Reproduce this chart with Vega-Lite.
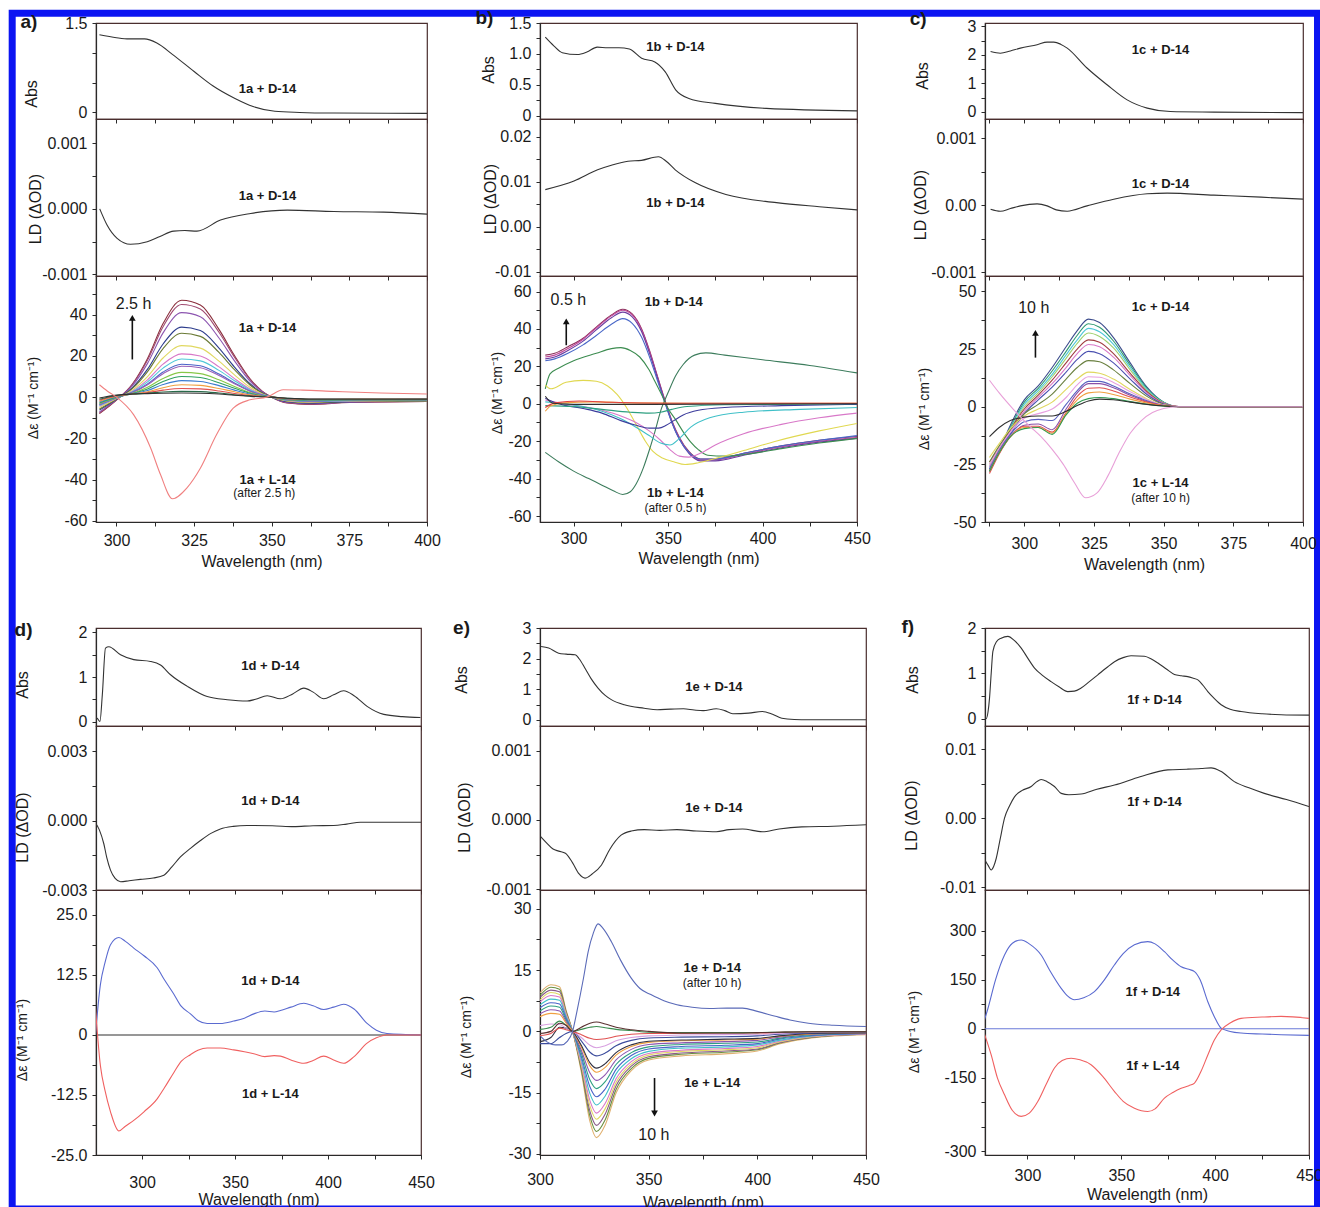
{
"$schema":"https://vega.github.io/schema/vega-lite/v6.json",
"usermeta":{"embedOptions":{"actions":false}},
"padding":{"left":8,"top":8,"right":0,"bottom":0},
"background":"white",
"config":{
 "font":"Liberation Sans",
 "view":{"stroke":"#4a2e2e","strokeWidth":1.2},
 "axis":{"grid":false,"domainColor":"#2a2a2a","domainWidth":1.2,"tickColor":"#2a2a2a","tickSize":4,"labelFontSize":16,"labelColor":"#1a1a1a","labelPadding":5,"titleFontSize":16,"titleFontWeight":"normal","titleColor":"#1a1a1a","labelOverlap":false,"labelFlush":false},
 "axisY":{"titleAngle":270,"titleBaseline":"middle","titleAlign":"center"},
 "text":{"color":"#1a1a1a","align":"center","baseline":"middle"}
},
"datasets":{
"frame":[{"x":266.41,"x2":686.79,"y":1.6732,"y2":-18.482}],
"lab":[
{"g":"aA","x":348.6,"y":0.4,"t":"1a + D-14"},{"g":"aL","x":348.6,"y":0.0002,"t":"1a + D-14"},{"g":"aC","x":348.6,"y":33.8,"t":"1a + D-14"},{"g":"aC","x":348.6,"y":-40,"t":"1a + L-14"},
{"g":"bA","x":353.9,"y":1.11,"t":"1b + D-14"},{"g":"bL","x":353.9,"y":0.0053,"t":"1b + D-14"},{"g":"bC","x":353,"y":54.2,"t":"1b + D-14"},{"g":"bC","x":353.9,"y":-47.9,"t":"1b + L-14"},
{"g":"cA","x":348.9,"y":2.18,"t":"1c + D-14"},{"g":"cL","x":348.9,"y":0.00032,"t":"1c + D-14"},{"g":"cC","x":348.9,"y":43.1,"t":"1c + D-14"},{"g":"cC","x":348.9,"y":-33,"t":"1c + L-14"},
{"g":"dA","x":369,"y":1.24,"t":"1d + D-14"},{"g":"dL","x":369,"y":0.00086,"t":"1d + D-14"},{"g":"dC","x":369,"y":11.3,"t":"1d + D-14"},{"g":"dC","x":369,"y":-12.3,"t":"1d + L-14"},
{"g":"eA","x":380,"y":1.09,"t":"1e + D-14"},{"g":"eL","x":380,"y":0.00017,"t":"1e + D-14"},{"g":"eC","x":379.2,"y":15.5,"t":"1e + D-14"},{"g":"eC","x":379.2,"y":-12.7,"t":"1e + L-14"},
{"g":"fA","x":367.7,"y":0.42,"t":"1f + D-14"},{"g":"fL","x":367.7,"y":0.0024,"t":"1f + D-14"},{"g":"fC","x":366.8,"y":114,"t":"1f + D-14"},{"g":"fC","x":366.8,"y":-115,"t":"1f + L-14"}],
"sub":[{"g":"aC","x":347.6,"y":-46.7,"t":"(after 2.5 h)"},{"g":"bC","x":353.9,"y":-55.9,"t":"(after 0.5 h)"},{"g":"cC","x":348.9,"y":-39.4,"t":"(after 10 h)"},{"g":"eC","x":379.2,"y":11.8,"t":"(after 10 h)"}],
"big":[{"g":"aC","x":305.5,"y":45,"t":"2.5 h"},{"g":"bC","x":297.2,"y":55.7,"t":"0.5 h"},{"g":"cC","x":303.4,"y":42.8,"t":"10 h"},{"g":"eC","x":352.4,"y":-25.3,"t":"10 h"}],
"let":[{"g":"a","x":271.8,"y":1.533,"t":"a)"},{"g":"b","x":252.8,"y":1.573,"t":"b)"},{"g":"c","x":261.9,"y":3.281,"t":"c)"},{"g":"d","x":236.2,"y":2.067,"t":"d)"},{"g":"e","x":263.9,"y":3.023,"t":"e)"},{"g":"f","x":236.3,"y":2.037,"t":"f)"}],
"arr":[{"g":"aC","x":305.1,"y":18.3,"y2":38},{"g":"bC","x":296.1,"y":31.3,"y2":44},{"g":"cC","x":304,"y":21.3,"y2":32},{"g":"eC","x":352.7,"y":-11.4,"y2":-20.1}],
"tipU":[{"g":"aC","x":305.1,"y":38.5},{"g":"bC","x":296.1,"y":44},{"g":"cC","x":304,"y":32}],
"tipD":[{"g":"eC","x":352.7,"y":-20.1}],
"aA":[{"x":294.5,"y":1.31},{"x":300,"y":1.26},{"x":304,"y":1.24},{"x":309,"y":1.24},{"x":313,"y":1.17},{"x":318,"y":0.98},{"x":325,"y":0.69},{"x":331,"y":0.45},{"x":338,"y":0.24},{"x":344,"y":0.1},{"x":351,"y":0.02},{"x":359,"y":0},{"x":370,"y":-0.01},{"x":400,"y":-0.015}],
"aL":[{"x":294.6,"y":0},{"x":297,"y":-0.00025},{"x":300.2,"y":-0.00045},{"x":304.5,"y":-0.00054},{"x":309.9,"y":-0.0005},{"x":314,"y":-0.00042},{"x":318.4,"y":-0.00034},{"x":322,"y":-0.00033},{"x":325.9,"y":-0.00034},{"x":333.5,"y":-0.00017},{"x":343.2,"y":-0.00007},{"x":355,"y":-0.00002},{"x":370,"y":-0.00004},{"x":386,"y":-0.00005},{"x":400,"y":-0.00008}],
"aC":[
{"c":"a01","x":294.5,"y":-8},{"c":"a01","x":300,"y":-1.4},{"c":"a01","x":305,"y":6.1},{"c":"a01","x":310,"y":18.8},{"c":"a01","x":315,"y":35.7},{"c":"a01","x":321,"y":47},{"c":"a01","x":327,"y":44.7},{"c":"a01","x":333,"y":32.9},{"c":"a01","x":338,"y":20.2},{"c":"a01","x":343,"y":8.9},{"c":"a01","x":347,"y":2.8},{"c":"a01","x":350,"y":0},{"c":"a01","x":355,"y":-2.8},{"c":"a01","x":362,"y":-3.5},{"c":"a01","x":375,"y":-2.6},{"c":"a01","x":400,"y":-2.1},
{"c":"a02","x":294.5,"y":-7.7},{"c":"a02","x":300,"y":-1.3},{"c":"a02","x":305,"y":5.9},{"c":"a02","x":310,"y":18},{"c":"a02","x":315,"y":34.2},{"c":"a02","x":321,"y":45},{"c":"a02","x":327,"y":42.8},{"c":"a02","x":333,"y":31.5},{"c":"a02","x":338,"y":19.4},{"c":"a02","x":343,"y":8.6},{"c":"a02","x":347,"y":2.7},{"c":"a02","x":350,"y":0},{"c":"a02","x":355,"y":-2.7},{"c":"a02","x":362,"y":-3.4},{"c":"a02","x":375,"y":-2.5},{"c":"a02","x":400,"y":-2.1},
{"c":"a03","x":294.5,"y":-7.2},{"c":"a03","x":300,"y":-1.2},{"c":"a03","x":305,"y":5.3},{"c":"a03","x":310,"y":16.4},{"c":"a03","x":315,"y":31.2},{"c":"a03","x":321,"y":41},{"c":"a03","x":327,"y":39},{"c":"a03","x":333,"y":28.7},{"c":"a03","x":338,"y":17.6},{"c":"a03","x":343,"y":7.8},{"c":"a03","x":347,"y":2.5},{"c":"a03","x":350,"y":0},{"c":"a03","x":355,"y":-2.5},{"c":"a03","x":362,"y":-3.2},{"c":"a03","x":375,"y":-2.4},{"c":"a03","x":400,"y":-2},
{"c":"a04","x":294.5,"y":-6.3},{"c":"a04","x":300,"y":-1},{"c":"a04","x":305,"y":4.4},{"c":"a04","x":310,"y":13.6},{"c":"a04","x":315,"y":25.8},{"c":"a04","x":321,"y":34},{"c":"a04","x":327,"y":32.3},{"c":"a04","x":333,"y":23.8},{"c":"a04","x":338,"y":14.6},{"c":"a04","x":343,"y":6.5},{"c":"a04","x":347,"y":2},{"c":"a04","x":350,"y":0},{"c":"a04","x":355,"y":-2.2},{"c":"a04","x":362,"y":-2.9},{"c":"a04","x":375,"y":-2.2},{"c":"a04","x":400,"y":-1.9},
{"c":"a05","x":294.5,"y":-5.8},{"c":"a05","x":300,"y":-0.9},{"c":"a05","x":305,"y":4},{"c":"a05","x":310,"y":12.4},{"c":"a05","x":315,"y":23.6},{"c":"a05","x":321,"y":31},{"c":"a05","x":327,"y":29.5},{"c":"a05","x":333,"y":21.7},{"c":"a05","x":338,"y":13.3},{"c":"a05","x":343,"y":5.9},{"c":"a05","x":347,"y":1.9},{"c":"a05","x":350,"y":0},{"c":"a05","x":355,"y":-2},{"c":"a05","x":362,"y":-2.7},{"c":"a05","x":375,"y":-2.1},{"c":"a05","x":400,"y":-1.8},
{"c":"a06","x":294.5,"y":-5},{"c":"a06","x":300,"y":-0.7},{"c":"a06","x":305,"y":3.3},{"c":"a06","x":310,"y":10},{"c":"a06","x":315,"y":19},{"c":"a06","x":321,"y":25},{"c":"a06","x":327,"y":23.8},{"c":"a06","x":333,"y":17.5},{"c":"a06","x":338,"y":10.8},{"c":"a06","x":343,"y":4.8},{"c":"a06","x":347,"y":1.5},{"c":"a06","x":350,"y":0},{"c":"a06","x":355,"y":-1.8},{"c":"a06","x":362,"y":-2.4},{"c":"a06","x":375,"y":-1.9},{"c":"a06","x":400,"y":-1.7},
{"c":"a07","x":294.5,"y":-4.4},{"c":"a07","x":300,"y":-0.5},{"c":"a07","x":305,"y":2.8},{"c":"a07","x":310,"y":8.4},{"c":"a07","x":315,"y":16},{"c":"a07","x":321,"y":21},{"c":"a07","x":327,"y":20},{"c":"a07","x":333,"y":14.7},{"c":"a07","x":338,"y":9},{"c":"a07","x":343,"y":4},{"c":"a07","x":347,"y":1.3},{"c":"a07","x":350,"y":0},{"c":"a07","x":355,"y":-1.6},{"c":"a07","x":362,"y":-2.2},{"c":"a07","x":375,"y":-1.8},{"c":"a07","x":400,"y":-1.6},
{"c":"a08","x":294.5,"y":-4.1},{"c":"a08","x":300,"y":-0.4},{"c":"a08","x":305,"y":2.5},{"c":"a08","x":310,"y":7.4},{"c":"a08","x":315,"y":14.1},{"c":"a08","x":321,"y":18.5},{"c":"a08","x":327,"y":17.6},{"c":"a08","x":333,"y":13},{"c":"a08","x":338,"y":8},{"c":"a08","x":343,"y":3.5},{"c":"a08","x":347,"y":1.1},{"c":"a08","x":350,"y":0},{"c":"a08","x":355,"y":-1.5},{"c":"a08","x":362,"y":-2},{"c":"a08","x":375,"y":-1.7},{"c":"a08","x":400,"y":-1.5},
{"c":"a09","x":294.5,"y":-3.7},{"c":"a09","x":300,"y":-0.3},{"c":"a09","x":305,"y":2.2},{"c":"a09","x":310,"y":6.4},{"c":"a09","x":315,"y":12.2},{"c":"a09","x":321,"y":16},{"c":"a09","x":327,"y":15.2},{"c":"a09","x":333,"y":11.2},{"c":"a09","x":338,"y":6.9},{"c":"a09","x":343,"y":3},{"c":"a09","x":347,"y":1},{"c":"a09","x":350,"y":0},{"c":"a09","x":355,"y":-1.4},{"c":"a09","x":362,"y":-1.9},{"c":"a09","x":375,"y":-1.6},{"c":"a09","x":400,"y":-1.4},
{"c":"a10","x":294.5,"y":-3.6},{"c":"a10","x":300,"y":-0.3},{"c":"a10","x":305,"y":2.1},{"c":"a10","x":310,"y":6},{"c":"a10","x":315,"y":11.4},{"c":"a10","x":321,"y":15},{"c":"a10","x":327,"y":14.3},{"c":"a10","x":333,"y":10.5},{"c":"a10","x":338,"y":6.5},{"c":"a10","x":343,"y":2.9},{"c":"a10","x":347,"y":0.9},{"c":"a10","x":350,"y":0},{"c":"a10","x":355,"y":-1.3},{"c":"a10","x":362,"y":-1.8},{"c":"a10","x":375,"y":-1.5},{"c":"a10","x":400,"y":-1.4},
{"c":"a11","x":294.5,"y":-3.1},{"c":"a11","x":300,"y":-0.1},{"c":"a11","x":305,"y":1.8},{"c":"a11","x":310,"y":4.8},{"c":"a11","x":315,"y":9.1},{"c":"a11","x":321,"y":12},{"c":"a11","x":327,"y":11.4},{"c":"a11","x":333,"y":8.4},{"c":"a11","x":338,"y":5.2},{"c":"a11","x":343,"y":2.3},{"c":"a11","x":347,"y":0.7},{"c":"a11","x":350,"y":0},{"c":"a11","x":355,"y":-1.2},{"c":"a11","x":362,"y":-1.6},{"c":"a11","x":375,"y":-1.4},{"c":"a11","x":400,"y":-1.3},
{"c":"a12","x":294.5,"y":-2.8},{"c":"a12","x":300,"y":0},{"c":"a12","x":305,"y":1.7},{"c":"a12","x":310,"y":4},{"c":"a12","x":315,"y":7.6},{"c":"a12","x":321,"y":10},{"c":"a12","x":327,"y":9.5},{"c":"a12","x":333,"y":7},{"c":"a12","x":338,"y":4.3},{"c":"a12","x":343,"y":1.9},{"c":"a12","x":347,"y":0.6},{"c":"a12","x":350,"y":0},{"c":"a12","x":355,"y":-1.1},{"c":"a12","x":362,"y":-1.5},{"c":"a12","x":375,"y":-1.3},{"c":"a12","x":400,"y":-1.2},
{"c":"a13","x":294.5,"y":-2.4},{"c":"a13","x":300,"y":0.2},{"c":"a13","x":305,"y":1.6},{"c":"a13","x":310,"y":3.2},{"c":"a13","x":315,"y":6.1},{"c":"a13","x":321,"y":8},{"c":"a13","x":327,"y":7.6},{"c":"a13","x":333,"y":5.6},{"c":"a13","x":338,"y":3.4},{"c":"a13","x":343,"y":1.5},{"c":"a13","x":347,"y":0.5},{"c":"a13","x":350,"y":0},{"c":"a13","x":355,"y":-1},{"c":"a13","x":362,"y":-1.4},{"c":"a13","x":375,"y":-1.2},{"c":"a13","x":400,"y":-1.1},
{"c":"a14","x":294.5,"y":-2},{"c":"a14","x":300,"y":0.4},{"c":"a14","x":305,"y":1.5},{"c":"a14","x":310,"y":2.6},{"c":"a14","x":315,"y":4.6},{"c":"a14","x":321,"y":6},{"c":"a14","x":327,"y":5.7},{"c":"a14","x":333,"y":4.2},{"c":"a14","x":338,"y":2.6},{"c":"a14","x":343,"y":1.1},{"c":"a14","x":347,"y":0.4},{"c":"a14","x":350,"y":0},{"c":"a14","x":355,"y":-0.8},{"c":"a14","x":362,"y":-1.2},{"c":"a14","x":375,"y":-1.1},{"c":"a14","x":400,"y":-1},
{"c":"a15","x":294.5,"y":-1.5},{"c":"a15","x":300,"y":0.6},{"c":"a15","x":305,"y":1.5},{"c":"a15","x":310,"y":2.2},{"c":"a15","x":315,"y":3.4},{"c":"a15","x":321,"y":4.2},{"c":"a15","x":327,"y":4},{"c":"a15","x":333,"y":3},{"c":"a15","x":338,"y":1.8},{"c":"a15","x":343,"y":0.8},{"c":"a15","x":347,"y":0.3},{"c":"a15","x":350,"y":0},{"c":"a15","x":355,"y":-0.7},{"c":"a15","x":362,"y":-1.1},{"c":"a15","x":375,"y":-1},{"c":"a15","x":400,"y":-1},
{"c":"a16","x":294.5,"y":-1},{"c":"a16","x":300,"y":0.8},{"c":"a16","x":305,"y":1.5},{"c":"a16","x":310,"y":1.9},{"c":"a16","x":315,"y":2.5},{"c":"a16","x":321,"y":2.8},{"c":"a16","x":327,"y":2.7},{"c":"a16","x":333,"y":2},{"c":"a16","x":338,"y":1.2},{"c":"a16","x":343,"y":0.6},{"c":"a16","x":347,"y":0.2},{"c":"a16","x":350,"y":0},{"c":"a16","x":355,"y":-0.6},{"c":"a16","x":362,"y":-1},{"c":"a16","x":375,"y":-1},{"c":"a16","x":400,"y":-1},
{"c":"a17","x":294.5,"y":-0.4},{"c":"a17","x":300,"y":1},{"c":"a17","x":305,"y":1.5},{"c":"a17","x":310,"y":1.7},{"c":"a17","x":315,"y":1.9},{"c":"a17","x":321,"y":2},{"c":"a17","x":327,"y":1.9},{"c":"a17","x":333,"y":1.5},{"c":"a17","x":338,"y":0.9},{"c":"a17","x":343,"y":0.4},{"c":"a17","x":347,"y":0.1},{"c":"a17","x":350,"y":0},{"c":"a17","x":355,"y":-0.5},{"c":"a17","x":362,"y":-0.9},{"c":"a17","x":375,"y":-0.9},{"c":"a17","x":400,"y":-0.9},
{"c":"aL","x":294.5,"y":6},{"c":"aL","x":297,"y":3},{"c":"aL","x":300,"y":0},{"c":"aL","x":305.5,"y":-8.5},{"c":"aL","x":311,"y":-24.7},{"c":"aL","x":314.2,"y":-37.7},{"c":"aL","x":318,"y":-49.3},{"c":"aL","x":322.7,"y":-44},{"c":"aL","x":327,"y":-34.5},{"c":"aL","x":332.2,"y":-18.3},{"c":"aL","x":337.6,"y":-5.3},{"c":"aL","x":343,"y":-1.3},{"c":"aL","x":348.4,"y":0},{"c":"aL","x":353.7,"y":3.6},{"c":"aL","x":360,"y":3.4},{"c":"aL","x":370,"y":2.8},{"c":"aL","x":385,"y":2},{"c":"aL","x":400,"y":1.5}],
"bA":[{"x":285,"y":1.27},{"x":289.5,"y":1.13},{"x":294,"y":1.02},{"x":302,"y":0.99},{"x":307,"y":1.03},{"x":312.5,"y":1.11},{"x":318,"y":1.1},{"x":324,"y":1.1},{"x":329.5,"y":1.08},{"x":336,"y":0.93},{"x":343,"y":0.87},{"x":348.5,"y":0.71},{"x":354,"y":0.42},{"x":361,"y":0.28},{"x":375,"y":0.2},{"x":402,"y":0.12},{"x":450,"y":0.08}],
"bL":[{"x":285,"y":0.0082},{"x":300.2,"y":0.0101},{"x":312.7,"y":0.0126},{"x":320,"y":0.0136},{"x":328.8,"y":0.0145},{"x":335.9,"y":0.0147},{"x":344.9,"y":0.0155},{"x":349,"y":0.0145},{"x":353.8,"y":0.0126},{"x":364.5,"y":0.0097},{"x":380.6,"y":0.0071},{"x":407.4,"y":0.0053},{"x":430,"y":0.0044},{"x":450,"y":0.0037}],
"bC":[
{"c":"b01","x":285,"y":26},{"c":"b01","x":290,"y":27},{"c":"b01","x":297,"y":30.5},{"c":"b01","x":305,"y":35},{"c":"b01","x":312,"y":41},{"c":"b01","x":320,"y":47.5},{"c":"b01","x":326,"y":50.5},{"c":"b01","x":331,"y":48},{"c":"b01","x":336,"y":40},{"c":"b01","x":340,"y":29},{"c":"b01","x":344,"y":16},{"c":"b01","x":348,"y":3},{"c":"b01","x":352,"y":-9},{"c":"b01","x":356,"y":-18},{"c":"b01","x":361,"y":-25.5},{"c":"b01","x":367,"y":-29.5},{"c":"b01","x":375,"y":-29.5},{"c":"b01","x":390,"y":-26.5},{"c":"b01","x":410,"y":-22.5},{"c":"b01","x":430,"y":-19.5},{"c":"b01","x":450,"y":-17.5},
{"c":"b02","x":285,"y":25},{"c":"b02","x":290,"y":26},{"c":"b02","x":297,"y":29.5},{"c":"b02","x":305,"y":34.5},{"c":"b02","x":312,"y":40.5},{"c":"b02","x":320,"y":47},{"c":"b02","x":326,"y":50},{"c":"b02","x":331,"y":47.5},{"c":"b02","x":336,"y":39.5},{"c":"b02","x":340,"y":28.5},{"c":"b02","x":344,"y":15.5},{"c":"b02","x":348,"y":2.5},{"c":"b02","x":352,"y":-9.5},{"c":"b02","x":356,"y":-18.5},{"c":"b02","x":361,"y":-26},{"c":"b02","x":367,"y":-30},{"c":"b02","x":375,"y":-30},{"c":"b02","x":390,"y":-27},{"c":"b02","x":410,"y":-23},{"c":"b02","x":430,"y":-20},{"c":"b02","x":450,"y":-18},
{"c":"b03","x":285,"y":24},{"c":"b03","x":290,"y":25},{"c":"b03","x":297,"y":28.5},{"c":"b03","x":305,"y":33.5},{"c":"b03","x":312,"y":39.5},{"c":"b03","x":320,"y":46},{"c":"b03","x":326,"y":49},{"c":"b03","x":331,"y":46.5},{"c":"b03","x":336,"y":38.5},{"c":"b03","x":340,"y":27.5},{"c":"b03","x":344,"y":15},{"c":"b03","x":348,"y":2},{"c":"b03","x":352,"y":-10},{"c":"b03","x":356,"y":-19},{"c":"b03","x":361,"y":-26.5},{"c":"b03","x":367,"y":-30.5},{"c":"b03","x":375,"y":-30.5},{"c":"b03","x":390,"y":-27.5},{"c":"b03","x":410,"y":-23.5},{"c":"b03","x":430,"y":-20.5},{"c":"b03","x":450,"y":-18.5},
{"c":"b04","x":285,"y":23},{"c":"b04","x":290,"y":24},{"c":"b04","x":297,"y":27},{"c":"b04","x":305,"y":31.5},{"c":"b04","x":312,"y":36.5},{"c":"b04","x":320,"y":42.5},{"c":"b04","x":326,"y":45.5},{"c":"b04","x":331,"y":43},{"c":"b04","x":336,"y":35.5},{"c":"b04","x":340,"y":25.5},{"c":"b04","x":344,"y":13.5},{"c":"b04","x":348,"y":1.5},{"c":"b04","x":352,"y":-10},{"c":"b04","x":356,"y":-19},{"c":"b04","x":361,"y":-26},{"c":"b04","x":367,"y":-29.5},{"c":"b04","x":375,"y":-29.5},{"c":"b04","x":390,"y":-26.5},{"c":"b04","x":410,"y":-22.5},{"c":"b04","x":430,"y":-19.5},{"c":"b04","x":450,"y":-17},
{"c":"b05","x":285,"y":8},{"c":"b05","x":287.5,"y":16},{"c":"b05","x":292,"y":19},{"c":"b05","x":300,"y":23},{"c":"b05","x":312,"y":27},{"c":"b05","x":320,"y":29.5},{"c":"b05","x":325,"y":30},{"c":"b05","x":330,"y":28.5},{"c":"b05","x":335,"y":25},{"c":"b05","x":340,"y":18},{"c":"b05","x":343,"y":12},{"c":"b05","x":347,"y":4},{"c":"b05","x":350,"y":-2.5},{"c":"b05","x":354,"y":-8.5},{"c":"b05","x":358,"y":-15},{"c":"b05","x":362,"y":-20.5},{"c":"b05","x":366,"y":-24.5},{"c":"b05","x":371,"y":-27.5},{"c":"b05","x":380,"y":-28},{"c":"b05","x":395,"y":-26.5},{"c":"b05","x":410,"y":-24},{"c":"b05","x":430,"y":-21},{"c":"b05","x":450,"y":-18.5},
{"c":"b06","x":285,"y":10},{"c":"b06","x":288,"y":8},{"c":"b06","x":296,"y":11.5},{"c":"b06","x":305,"y":12.5},{"c":"b06","x":312,"y":12},{"c":"b06","x":318,"y":9.5},{"c":"b06","x":323,"y":5},{"c":"b06","x":328,"y":-2},{"c":"b06","x":333,"y":-11},{"c":"b06","x":338,"y":-20},{"c":"b06","x":342,"y":-25.5},{"c":"b06","x":347,"y":-29},{"c":"b06","x":353,"y":-31},{"c":"b06","x":359,"y":-32.5},{"c":"b06","x":366,"y":-31.5},{"c":"b06","x":374,"y":-29.5},{"c":"b06","x":390,"y":-25},{"c":"b06","x":407,"y":-20},{"c":"b06","x":430,"y":-14.5},{"c":"b06","x":450,"y":-10.5},
{"c":"b07","x":285,"y":-26},{"c":"b07","x":292,"y":-31},{"c":"b07","x":300,"y":-36},{"c":"b07","x":308,"y":-40},{"c":"b07","x":315,"y":-43.5},{"c":"b07","x":321,"y":-46.5},{"c":"b07","x":326,"y":-48.5},{"c":"b07","x":330,"y":-47},{"c":"b07","x":333,"y":-43},{"c":"b07","x":337,"y":-34},{"c":"b07","x":340,"y":-25},{"c":"b07","x":343,"y":-15},{"c":"b07","x":346.5,"y":-2.5},{"c":"b07","x":350,"y":6},{"c":"b07","x":354,"y":15},{"c":"b07","x":358,"y":21},{"c":"b07","x":364,"y":26},{"c":"b07","x":370,"y":27.2},{"c":"b07","x":380,"y":26},{"c":"b07","x":400,"y":23.5},{"c":"b07","x":425,"y":20.5},{"c":"b07","x":450,"y":16.5},
{"c":"b08","x":285,"y":2},{"c":"b08","x":295,"y":0},{"c":"b08","x":305,"y":-1.5},{"c":"b08","x":315,"y":-3.5},{"c":"b08","x":325,"y":-6.5},{"c":"b08","x":333,"y":-10},{"c":"b08","x":340,"y":-14.5},{"c":"b08","x":346,"y":-19.5},{"c":"b08","x":351,"y":-24.5},{"c":"b08","x":356,"y":-28},{"c":"b08","x":361,"y":-28.5},{"c":"b08","x":367,"y":-26.5},{"c":"b08","x":375,"y":-22},{"c":"b08","x":390,"y":-16},{"c":"b08","x":410,"y":-11},{"c":"b08","x":430,"y":-7.5},{"c":"b08","x":450,"y":-5},
{"c":"b09","x":285,"y":1},{"c":"b09","x":295,"y":0},{"c":"b09","x":305,"y":-1.5},{"c":"b09","x":315,"y":-4},{"c":"b09","x":325,"y":-8},{"c":"b09","x":333,"y":-12.5},{"c":"b09","x":340,"y":-17},{"c":"b09","x":346,"y":-21},{"c":"b09","x":351,"y":-22},{"c":"b09","x":356,"y":-18.5},{"c":"b09","x":362,"y":-12.5},{"c":"b09","x":372,"y":-7.5},{"c":"b09","x":390,"y":-4.5},{"c":"b09","x":420,"y":-3},{"c":"b09","x":450,"y":-2},
{"c":"b10","x":285,"y":3},{"c":"b10","x":292,"y":0},{"c":"b10","x":305,"y":-2.5},{"c":"b10","x":315,"y":-5},{"c":"b10","x":325,"y":-9},{"c":"b10","x":333,"y":-11.5},{"c":"b10","x":340,"y":-13},{"c":"b10","x":345,"y":-13},{"c":"b10","x":349,"y":-11.5},{"c":"b10","x":353,"y":-9},{"c":"b10","x":358,"y":-6},{"c":"b10","x":366,"y":-3.5},{"c":"b10","x":380,"y":-2},{"c":"b10","x":410,"y":-1},{"c":"b10","x":450,"y":-0.3},
{"c":"b11","x":285,"y":-1},{"c":"b11","x":300,"y":-1.5},{"c":"b11","x":315,"y":-3},{"c":"b11","x":330,"y":-4.5},{"c":"b11","x":340,"y":-5},{"c":"b11","x":346,"y":-4.5},{"c":"b11","x":352,"y":-3},{"c":"b11","x":360,"y":-1.5},{"c":"b11","x":380,"y":-0.5},{"c":"b11","x":450,"y":0},
{"c":"b12","x":285,"y":-4},{"c":"b12","x":288,"y":-1},{"c":"b12","x":295,"y":0.5},{"c":"b12","x":310,"y":1},{"c":"b12","x":330,"y":0.5},{"c":"b12","x":360,"y":0.3},{"c":"b12","x":450,"y":0.2},
{"c":"b13","x":285,"y":-2},{"c":"b13","x":290,"y":0.5},{"c":"b13","x":303,"y":1.5},{"c":"b13","x":320,"y":0.8},{"c":"b13","x":350,"y":0.3},{"c":"b13","x":450,"y":0.2},
{"c":"b14","x":285,"y":4},{"c":"b14","x":289,"y":0.3},{"c":"b14","x":300,"y":-0.3},{"c":"b14","x":340,"y":-0.3},{"c":"b14","x":450,"y":0}],
"cA":[{"x":287.9,"y":2.12},{"x":291.4,"y":2.06},{"x":295,"y":2.14},{"x":298.6,"y":2.24},{"x":304.6,"y":2.36},{"x":308.2,"y":2.45},{"x":310.6,"y":2.45},{"x":313,"y":2.38},{"x":315.4,"y":2.24},{"x":322.5,"y":1.54},{"x":329.7,"y":0.95},{"x":336.9,"y":0.42},{"x":344.1,"y":0.13},{"x":352.4,"y":0.01},{"x":368,"y":-0.01},{"x":400,"y":-0.03}],
"cL":[{"x":287.9,"y":-0.00006},{"x":291.4,"y":-0.00009},{"x":295,"y":-0.00005},{"x":298.6,"y":-0.00001},{"x":304.6,"y":0.00002},{"x":308.2,"y":-0.00001},{"x":311.5,"y":-0.00007},{"x":315.4,"y":-0.00009},{"x":322.5,"y":-0.00001},{"x":332.1,"y":0.00009},{"x":344.1,"y":0.00017},{"x":351.3,"y":0.00018},{"x":368,"y":0.00015},{"x":385,"y":0.00012},{"x":400,"y":0.00009}],
"cC":[
{"c":"c01","x":287.5,"y":-28},{"c":"c01","x":291,"y":-19},{"c":"c01","x":295,"y":-8},{"c":"c01","x":300,"y":3},{"c":"c01","x":305,"y":9},{"c":"c01","x":310,"y":17},{"c":"c01","x":315,"y":26},{"c":"c01","x":319,"y":33},{"c":"c01","x":323,"y":38},{"c":"c01","x":327,"y":36.5},{"c":"c01","x":332,"y":30},{"c":"c01","x":338,"y":19},{"c":"c01","x":344,"y":8.5},{"c":"c01","x":350,"y":2},{"c":"c01","x":356,"y":0},{"c":"c01","x":370,"y":0},{"c":"c01","x":400,"y":0},
{"c":"c02","x":287.5,"y":-27},{"c":"c02","x":291,"y":-19},{"c":"c02","x":295,"y":-9},{"c":"c02","x":300,"y":2},{"c":"c02","x":305,"y":8},{"c":"c02","x":310,"y":15.5},{"c":"c02","x":315,"y":24},{"c":"c02","x":319,"y":31},{"c":"c02","x":323,"y":36},{"c":"c02","x":327,"y":34.5},{"c":"c02","x":332,"y":28.5},{"c":"c02","x":338,"y":18},{"c":"c02","x":344,"y":8},{"c":"c02","x":350,"y":2},{"c":"c02","x":356,"y":0},{"c":"c02","x":370,"y":0},{"c":"c02","x":400,"y":0},
{"c":"c03","x":287.5,"y":-26},{"c":"c03","x":291,"y":-19},{"c":"c03","x":295,"y":-9.5},{"c":"c03","x":300,"y":1},{"c":"c03","x":305,"y":7},{"c":"c03","x":310,"y":14},{"c":"c03","x":315,"y":22.5},{"c":"c03","x":319,"y":29},{"c":"c03","x":323,"y":34},{"c":"c03","x":327,"y":32.5},{"c":"c03","x":332,"y":27},{"c":"c03","x":338,"y":17},{"c":"c03","x":344,"y":7.5},{"c":"c03","x":350,"y":1.8},{"c":"c03","x":356,"y":0},{"c":"c03","x":370,"y":0},{"c":"c03","x":400,"y":0},
{"c":"c04","x":287.5,"y":-25},{"c":"c04","x":291,"y":-18.5},{"c":"c04","x":295,"y":-10},{"c":"c04","x":300,"y":0},{"c":"c04","x":305,"y":6},{"c":"c04","x":310,"y":13},{"c":"c04","x":315,"y":21},{"c":"c04","x":319,"y":27.5},{"c":"c04","x":323,"y":32},{"c":"c04","x":327,"y":30.5},{"c":"c04","x":332,"y":25.5},{"c":"c04","x":338,"y":16},{"c":"c04","x":344,"y":7},{"c":"c04","x":350,"y":1.7},{"c":"c04","x":356,"y":0},{"c":"c04","x":370,"y":0},{"c":"c04","x":400,"y":0},
{"c":"c05","x":287.5,"y":-24},{"c":"c05","x":291,"y":-18},{"c":"c05","x":295,"y":-10},{"c":"c05","x":300,"y":-1},{"c":"c05","x":305,"y":5},{"c":"c05","x":310,"y":11.5},{"c":"c05","x":315,"y":19},{"c":"c05","x":319,"y":25},{"c":"c05","x":323,"y":29},{"c":"c05","x":327,"y":28},{"c":"c05","x":332,"y":23},{"c":"c05","x":338,"y":14.5},{"c":"c05","x":344,"y":6.5},{"c":"c05","x":350,"y":1.5},{"c":"c05","x":356,"y":0},{"c":"c05","x":370,"y":0},{"c":"c05","x":400,"y":0},
{"c":"c06","x":287.5,"y":-26},{"c":"c06","x":291,"y":-19},{"c":"c06","x":295,"y":-11},{"c":"c06","x":300,"y":-2},{"c":"c06","x":305,"y":4},{"c":"c06","x":310,"y":10},{"c":"c06","x":315,"y":17},{"c":"c06","x":319,"y":23},{"c":"c06","x":323,"y":27},{"c":"c06","x":327,"y":26},{"c":"c06","x":332,"y":21.5},{"c":"c06","x":338,"y":13.5},{"c":"c06","x":344,"y":6},{"c":"c06","x":350,"y":1.4},{"c":"c06","x":356,"y":0},{"c":"c06","x":370,"y":0},{"c":"c06","x":400,"y":0},
{"c":"c07","x":287.5,"y":-28},{"c":"c07","x":291,"y":-20},{"c":"c07","x":295,"y":-12},{"c":"c07","x":300,"y":-3},{"c":"c07","x":305,"y":3},{"c":"c07","x":310,"y":8.5},{"c":"c07","x":315,"y":15},{"c":"c07","x":319,"y":20.5},{"c":"c07","x":323,"y":24},{"c":"c07","x":327,"y":23},{"c":"c07","x":332,"y":19},{"c":"c07","x":338,"y":12},{"c":"c07","x":344,"y":5.3},{"c":"c07","x":350,"y":1.2},{"c":"c07","x":356,"y":0},{"c":"c07","x":370,"y":0},{"c":"c07","x":400,"y":0},
{"c":"c08","x":287.5,"y":-24},{"c":"c08","x":291,"y":-17},{"c":"c08","x":295,"y":-10},{"c":"c08","x":300,"y":-3},{"c":"c08","x":305,"y":1},{"c":"c08","x":310,"y":5.5},{"c":"c08","x":315,"y":12},{"c":"c08","x":319,"y":17},{"c":"c08","x":323,"y":20},{"c":"c08","x":327,"y":19.5},{"c":"c08","x":332,"y":16},{"c":"c08","x":338,"y":10},{"c":"c08","x":344,"y":4.5},{"c":"c08","x":350,"y":1},{"c":"c08","x":356,"y":0},{"c":"c08","x":370,"y":0},{"c":"c08","x":400,"y":0},
{"c":"c09","x":287.5,"y":-22},{"c":"c09","x":291,"y":-16},{"c":"c09","x":295,"y":-9.5},{"c":"c09","x":300,"y":-4},{"c":"c09","x":305,"y":-1},{"c":"c09","x":310,"y":2},{"c":"c09","x":315,"y":7.5},{"c":"c09","x":319,"y":12},{"c":"c09","x":323,"y":15},{"c":"c09","x":327,"y":14.5},{"c":"c09","x":332,"y":12},{"c":"c09","x":338,"y":7.5},{"c":"c09","x":344,"y":3.4},{"c":"c09","x":350,"y":0.8},{"c":"c09","x":356,"y":0},{"c":"c09","x":370,"y":0},{"c":"c09","x":400,"y":0},
{"c":"c10","x":287.5,"y":-25},{"c":"c10","x":291,"y":-18},{"c":"c10","x":295,"y":-11},{"c":"c10","x":300,"y":-5},{"c":"c10","x":305,"y":-3},{"c":"c10","x":310,"y":-1},{"c":"c10","x":315,"y":4},{"c":"c10","x":319,"y":9.5},{"c":"c10","x":323,"y":13},{"c":"c10","x":327,"y":12.8},{"c":"c10","x":332,"y":10.5},{"c":"c10","x":338,"y":6.5},{"c":"c10","x":344,"y":3},{"c":"c10","x":350,"y":0.7},{"c":"c10","x":356,"y":0},{"c":"c10","x":370,"y":0},{"c":"c10","x":400,"y":0},
{"c":"c11","x":287.5,"y":-27},{"c":"c11","x":291,"y":-19},{"c":"c11","x":295,"y":-12},{"c":"c11","x":300,"y":-6.5},{"c":"c11","x":305,"y":-5.5},{"c":"c11","x":310,"y":-6},{"c":"c11","x":315,"y":1},{"c":"c11","x":319,"y":7},{"c":"c11","x":323,"y":11},{"c":"c11","x":327,"y":11},{"c":"c11","x":332,"y":9},{"c":"c11","x":338,"y":5.5},{"c":"c11","x":344,"y":2.6},{"c":"c11","x":350,"y":0.6},{"c":"c11","x":356,"y":0},{"c":"c11","x":370,"y":0},{"c":"c11","x":400,"y":0},
{"c":"c12","x":287.5,"y":-28},{"c":"c12","x":291,"y":-20},{"c":"c12","x":295,"y":-13},{"c":"c12","x":300,"y":-8},{"c":"c12","x":305,"y":-7.5},{"c":"c12","x":310,"y":-10},{"c":"c12","x":315,"y":-1},{"c":"c12","x":319,"y":6},{"c":"c12","x":323,"y":10},{"c":"c12","x":327,"y":10},{"c":"c12","x":332,"y":8.2},{"c":"c12","x":338,"y":5},{"c":"c12","x":344,"y":2.3},{"c":"c12","x":350,"y":0.5},{"c":"c12","x":356,"y":0},{"c":"c12","x":370,"y":0},{"c":"c12","x":400,"y":0},
{"c":"c13","x":287.5,"y":-29},{"c":"c13","x":291,"y":-20.5},{"c":"c13","x":295,"y":-13},{"c":"c13","x":300,"y":-8.5},{"c":"c13","x":305,"y":-8.5},{"c":"c13","x":310,"y":-11},{"c":"c13","x":315,"y":-2.5},{"c":"c13","x":319,"y":4.5},{"c":"c13","x":323,"y":8},{"c":"c13","x":327,"y":8.2},{"c":"c13","x":332,"y":6.8},{"c":"c13","x":338,"y":4.2},{"c":"c13","x":344,"y":2},{"c":"c13","x":350,"y":0.5},{"c":"c13","x":356,"y":0},{"c":"c13","x":370,"y":0},{"c":"c13","x":400,"y":0},
{"c":"c14","x":287.5,"y":-28},{"c":"c14","x":291,"y":-20},{"c":"c14","x":295,"y":-13},{"c":"c14","x":300,"y":-9},{"c":"c14","x":305,"y":-9},{"c":"c14","x":310,"y":-11.5},{"c":"c14","x":315,"y":-3},{"c":"c14","x":319,"y":3},{"c":"c14","x":323,"y":6},{"c":"c14","x":327,"y":6.4},{"c":"c14","x":332,"y":5.3},{"c":"c14","x":338,"y":3.3},{"c":"c14","x":344,"y":1.6},{"c":"c14","x":350,"y":0.4},{"c":"c14","x":356,"y":0},{"c":"c14","x":370,"y":0},{"c":"c14","x":400,"y":0},
{"c":"c15","x":287.5,"y":-28},{"c":"c15","x":291,"y":-20},{"c":"c15","x":295,"y":-13},{"c":"c15","x":300,"y":-9.5},{"c":"c15","x":305,"y":-9},{"c":"c15","x":310,"y":-12},{"c":"c15","x":315,"y":-3.5},{"c":"c15","x":319,"y":1.5},{"c":"c15","x":323,"y":3.5},{"c":"c15","x":327,"y":4},{"c":"c15","x":332,"y":3.5},{"c":"c15","x":338,"y":2.2},{"c":"c15","x":344,"y":1.1},{"c":"c15","x":350,"y":0.3},{"c":"c15","x":356,"y":0},{"c":"c15","x":370,"y":0},{"c":"c15","x":400,"y":0},
{"c":"c16","x":287.5,"y":-13},{"c":"c16","x":291,"y":-9},{"c":"c16","x":295,"y":-6},{"c":"c16","x":300,"y":-4.5},{"c":"c16","x":305,"y":-4},{"c":"c16","x":310,"y":-4},{"c":"c16","x":315,"y":-2},{"c":"c16","x":319,"y":0.5},{"c":"c16","x":323,"y":2.5},{"c":"c16","x":327,"y":3.3},{"c":"c16","x":332,"y":3},{"c":"c16","x":338,"y":2},{"c":"c16","x":344,"y":1},{"c":"c16","x":350,"y":0.3},{"c":"c16","x":356,"y":0},{"c":"c16","x":370,"y":0},{"c":"c16","x":400,"y":0},
{"c":"c17","x":287.5,"y":11.5},{"c":"c17","x":291,"y":6},{"c":"c17","x":296,"y":-1},{"c":"c17","x":302,"y":-8.5},{"c":"c17","x":306,"y":-13},{"c":"c17","x":310,"y":-18.5},{"c":"c17","x":314,"y":-25},{"c":"c17","x":318,"y":-33},{"c":"c17","x":322,"y":-39.5},{"c":"c17","x":326,"y":-37.5},{"c":"c17","x":330,"y":-30},{"c":"c17","x":334,"y":-20},{"c":"c17","x":338,"y":-11.5},{"c":"c17","x":342,"y":-6},{"c":"c17","x":346,"y":-2.5},{"c":"c17","x":350,"y":-0.8},{"c":"c17","x":355,"y":0},{"c":"c17","x":370,"y":0},{"c":"c17","x":400,"y":0}],
"dA":[{"x":274,"y":0.11},{"x":275.9,"y":0.07},{"x":277.3,"y":0},{"x":278.6,"y":0.6},{"x":280.3,"y":1.65},{"x":282.1,"y":1.68},{"x":288.4,"y":1.5},{"x":295.5,"y":1.39},{"x":304.5,"y":1.35},{"x":309.9,"y":1.27},{"x":315.3,"y":1.05},{"x":324.3,"y":0.79},{"x":335,"y":0.56},{"x":345.8,"y":0.49},{"x":356.5,"y":0.46},{"x":361,"y":0.5},{"x":367.3,"y":0.58},{"x":374.4,"y":0.51},{"x":381,"y":0.62},{"x":387,"y":0.75},{"x":392,"y":0.66},{"x":397.7,"y":0.51},{"x":403,"y":0.6},{"x":408.4,"y":0.69},{"x":414,"y":0.58},{"x":421,"y":0.34},{"x":430,"y":0.16},{"x":440,"y":0.11},{"x":449.7,"y":0.09}],
"dL":[{"x":274.5,"y":-0.00005},{"x":277,"y":-0.0004},{"x":279.4,"y":-0.001},{"x":281,"y":-0.0016},{"x":283,"y":-0.00214},{"x":285.5,"y":-0.0025},{"x":288.4,"y":-0.00264},{"x":293,"y":-0.0026},{"x":299.1,"y":-0.00254},{"x":306,"y":-0.00248},{"x":311.7,"y":-0.00236},{"x":316,"y":-0.002},{"x":320.6,"y":-0.00157},{"x":326,"y":-0.0012},{"x":331.4,"y":-0.00086},{"x":337,"y":-0.00055},{"x":342.1,"y":-0.00036},{"x":349,"y":-0.00025},{"x":356.5,"y":-0.00021},{"x":370,"y":-0.00022},{"x":381.6,"y":-0.00026},{"x":392,"y":-0.00022},{"x":403,"y":-0.00021},{"x":410,"y":-0.00015},{"x":417.4,"y":-0.00007},{"x":450,"y":-0.00007}],
"dC":[
{"c":"d0","x":274,"y":0},{"c":"d0","x":450,"y":0},
{"c":"dD","x":274,"y":-4.4},{"c":"dD","x":277.6,"y":10.6},{"c":"dD","x":280,"y":15},{"c":"dD","x":283,"y":18.8},{"c":"dD","x":287.5,"y":20.3},{"c":"dD","x":291,"y":19.5},{"c":"dD","x":295.5,"y":18.1},{"c":"dD","x":301,"y":16.5},{"c":"dD","x":308.1,"y":14},{"c":"dD","x":312,"y":11.5},{"c":"dD","x":317.1,"y":8.5},{"c":"dD","x":321,"y":6},{"c":"dD","x":326,"y":4.4},{"c":"dD","x":330,"y":3},{"c":"dD","x":335,"y":2.4},{"c":"dD","x":342,"y":2.4},{"c":"dD","x":349.3,"y":2.9},{"c":"dD","x":355,"y":3.5},{"c":"dD","x":360.1,"y":4.4},{"c":"dD","x":366,"y":5},{"c":"dD","x":371,"y":4.8},{"c":"dD","x":374.4,"y":5.1},{"c":"dD","x":380,"y":5.8},{"c":"dD","x":387,"y":6.6},{"c":"dD","x":392,"y":6.1},{"c":"dD","x":397.7,"y":5.3},{"c":"dD","x":403,"y":5.8},{"c":"dD","x":408.4,"y":6.4},{"c":"dD","x":414,"y":5.4},{"c":"dD","x":421,"y":2.4},{"c":"dD","x":426,"y":1},{"c":"dD","x":431.7,"y":0.3},{"c":"dD","x":450,"y":0},
{"c":"dL","x":274,"y":10.6},{"c":"dL","x":277.6,"y":-6.5},{"c":"dL","x":280,"y":-11.5},{"c":"dL","x":283,"y":-16},{"c":"dL","x":287.5,"y":-20},{"c":"dL","x":291,"y":-19},{"c":"dL","x":295.5,"y":-17.8},{"c":"dL","x":301,"y":-16},{"c":"dL","x":308.1,"y":-13.3},{"c":"dL","x":312,"y":-11},{"c":"dL","x":317.1,"y":-7.8},{"c":"dL","x":321,"y":-5.5},{"c":"dL","x":326,"y":-4.1},{"c":"dL","x":330,"y":-3.2},{"c":"dL","x":335,"y":-2.7},{"c":"dL","x":342,"y":-2.7},{"c":"dL","x":349.3,"y":-3.1},{"c":"dL","x":355,"y":-3.5},{"c":"dL","x":360.1,"y":-3.9},{"c":"dL","x":366,"y":-4.5},{"c":"dL","x":371,"y":-4.3},{"c":"dL","x":374.4,"y":-4.4},{"c":"dL","x":380,"y":-5.2},{"c":"dL","x":387,"y":-5.9},{"c":"dL","x":392,"y":-5.3},{"c":"dL","x":397.7,"y":-4.4},{"c":"dL","x":403,"y":-5.2},{"c":"dL","x":408.4,"y":-5.9},{"c":"dL","x":414,"y":-4.5},{"c":"dL","x":421,"y":-1.7},{"c":"dL","x":426,"y":-0.6},{"c":"dL","x":431.7,"y":0},{"c":"dL","x":450,"y":0}],
"eA":[{"x":300.5,"y":2.4},{"x":304,"y":2.35},{"x":308.6,"y":2.18},{"x":312,"y":2.15},{"x":316.2,"y":2.13},{"x":318,"y":2},{"x":320.7,"y":1.69},{"x":323.5,"y":1.35},{"x":326.7,"y":1.04},{"x":330,"y":0.8},{"x":332.8,"y":0.66},{"x":338.8,"y":0.49},{"x":347.9,"y":0.38},{"x":353.9,"y":0.33},{"x":360,"y":0.35},{"x":366,"y":0.36},{"x":371,"y":0.32},{"x":375.1,"y":0.3},{"x":381.1,"y":0.36},{"x":385,"y":0.3},{"x":388.7,"y":0.2},{"x":396,"y":0.22},{"x":402.3,"y":0.27},{"x":407,"y":0.18},{"x":411.3,"y":0.05},{"x":417,"y":0.01},{"x":423.5,"y":0},{"x":450,"y":0}],
"eL":[{"x":300.3,"y":-0.00024},{"x":303,"y":-0.00033},{"x":306,"y":-0.00042},{"x":308.6,"y":-0.00045},{"x":311.7,"y":-0.00048},{"x":315,"y":-0.00062},{"x":318,"y":-0.00078},{"x":320.7,"y":-0.00084},{"x":324,"y":-0.00078},{"x":328.3,"y":-0.00065},{"x":332,"y":-0.00043},{"x":337.3,"y":-0.00022},{"x":342,"y":-0.00016},{"x":348,"y":-0.00014},{"x":355,"y":-0.00015},{"x":363,"y":-0.00014},{"x":372,"y":-0.00016},{"x":381.1,"y":-0.00017},{"x":387,"y":-0.00014},{"x":393.2,"y":-0.00013},{"x":402.3,"y":-0.00017},{"x":410,"y":-0.00013},{"x":420.5,"y":-0.0001},{"x":435,"y":-0.00009},{"x":450,"y":-0.00007}],
"eC":[
{"c":"e01","x":300,"y":9.4},{"c":"e01","x":305,"y":11.4},{"c":"e01","x":309,"y":10.9},{"c":"e01","x":312,"y":5.2},{"c":"e01","x":315,"y":0},{"c":"e01","x":319,"y":-9.9},{"c":"e01","x":323,"y":-22.1},{"c":"e01","x":326,"y":-26},{"c":"e01","x":330,"y":-22.9},{"c":"e01","x":335,"y":-15.1},{"c":"e01","x":342,"y":-9.6},{"c":"e01","x":350,"y":-7},{"c":"e01","x":365,"y":-6},{"c":"e01","x":385,"y":-5.5},{"c":"e01","x":400,"y":-4.8},{"c":"e01","x":410,"y":-3.1},{"c":"e01","x":425,"y":-1.6},{"c":"e01","x":450,"y":-0.8},
{"c":"e02","x":300,"y":8.8},{"c":"e02","x":305,"y":10.8},{"c":"e02","x":309,"y":10.3},{"c":"e02","x":312,"y":4.9},{"c":"e02","x":315,"y":0},{"c":"e02","x":319,"y":-9.3},{"c":"e02","x":323,"y":-20.8},{"c":"e02","x":326,"y":-24.5},{"c":"e02","x":330,"y":-21.6},{"c":"e02","x":335,"y":-14.2},{"c":"e02","x":342,"y":-9.1},{"c":"e02","x":350,"y":-6.6},{"c":"e02","x":365,"y":-5.6},{"c":"e02","x":385,"y":-5.1},{"c":"e02","x":400,"y":-4.5},{"c":"e02","x":410,"y":-2.9},{"c":"e02","x":425,"y":-1.5},{"c":"e02","x":450,"y":-0.7},
{"c":"e03","x":300,"y":8.3},{"c":"e03","x":305,"y":10.1},{"c":"e03","x":309,"y":9.7},{"c":"e03","x":312,"y":4.6},{"c":"e03","x":315,"y":0},{"c":"e03","x":319,"y":-8.7},{"c":"e03","x":323,"y":-19.6},{"c":"e03","x":326,"y":-23},{"c":"e03","x":330,"y":-20.2},{"c":"e03","x":335,"y":-13.3},{"c":"e03","x":342,"y":-8.5},{"c":"e03","x":350,"y":-6.2},{"c":"e03","x":365,"y":-5.3},{"c":"e03","x":385,"y":-4.8},{"c":"e03","x":400,"y":-4.3},{"c":"e03","x":410,"y":-2.8},{"c":"e03","x":425,"y":-1.4},{"c":"e03","x":450,"y":-0.7},
{"c":"e04","x":300,"y":7.7},{"c":"e04","x":305,"y":9.5},{"c":"e04","x":309,"y":9},{"c":"e04","x":312,"y":4.3},{"c":"e04","x":315,"y":0},{"c":"e04","x":319,"y":-8.2},{"c":"e04","x":323,"y":-18.3},{"c":"e04","x":326,"y":-21.5},{"c":"e04","x":330,"y":-18.9},{"c":"e04","x":335,"y":-12.5},{"c":"e04","x":342,"y":-8},{"c":"e04","x":350,"y":-5.8},{"c":"e04","x":365,"y":-4.9},{"c":"e04","x":385,"y":-4.5},{"c":"e04","x":400,"y":-4},{"c":"e04","x":410,"y":-2.6},{"c":"e04","x":425,"y":-1.3},{"c":"e04","x":450,"y":-0.6},
{"c":"e05","x":300,"y":7.2},{"c":"e05","x":305,"y":8.8},{"c":"e05","x":309,"y":8.4},{"c":"e05","x":312,"y":4},{"c":"e05","x":315,"y":0},{"c":"e05","x":319,"y":-7.6},{"c":"e05","x":323,"y":-17},{"c":"e05","x":326,"y":-20},{"c":"e05","x":330,"y":-17.6},{"c":"e05","x":335,"y":-11.6},{"c":"e05","x":342,"y":-7.4},{"c":"e05","x":350,"y":-5.4},{"c":"e05","x":365,"y":-4.6},{"c":"e05","x":385,"y":-4.2},{"c":"e05","x":400,"y":-3.7},{"c":"e05","x":410,"y":-2.4},{"c":"e05","x":425,"y":-1.2},{"c":"e05","x":450,"y":-0.6},
{"c":"e06","x":300,"y":6.5},{"c":"e06","x":305,"y":7.9},{"c":"e06","x":309,"y":7.6},{"c":"e06","x":312,"y":3.6},{"c":"e06","x":315,"y":0},{"c":"e06","x":319,"y":-6.8},{"c":"e06","x":323,"y":-15.3},{"c":"e06","x":326,"y":-18},{"c":"e06","x":330,"y":-15.8},{"c":"e06","x":335,"y":-10.4},{"c":"e06","x":342,"y":-6.7},{"c":"e06","x":350,"y":-4.9},{"c":"e06","x":365,"y":-4.1},{"c":"e06","x":385,"y":-3.8},{"c":"e06","x":400,"y":-3.3},{"c":"e06","x":410,"y":-2.2},{"c":"e06","x":425,"y":-1.1},{"c":"e06","x":450,"y":-0.5},
{"c":"e07","x":300,"y":5.8},{"c":"e07","x":305,"y":7},{"c":"e07","x":309,"y":6.7},{"c":"e07","x":312,"y":3.2},{"c":"e07","x":315,"y":0},{"c":"e07","x":319,"y":-6.1},{"c":"e07","x":323,"y":-13.6},{"c":"e07","x":326,"y":-16},{"c":"e07","x":330,"y":-14.1},{"c":"e07","x":335,"y":-9.3},{"c":"e07","x":342,"y":-5.9},{"c":"e07","x":350,"y":-4.3},{"c":"e07","x":365,"y":-3.7},{"c":"e07","x":385,"y":-3.4},{"c":"e07","x":400,"y":-3},{"c":"e07","x":410,"y":-1.9},{"c":"e07","x":425,"y":-1},{"c":"e07","x":450,"y":-0.5},
{"c":"e08","x":300,"y":5},{"c":"e08","x":305,"y":6.2},{"c":"e08","x":309,"y":5.9},{"c":"e08","x":312,"y":2.8},{"c":"e08","x":315,"y":0},{"c":"e08","x":319,"y":-5.3},{"c":"e08","x":323,"y":-11.9},{"c":"e08","x":326,"y":-14},{"c":"e08","x":330,"y":-12.3},{"c":"e08","x":335,"y":-8.1},{"c":"e08","x":342,"y":-5.2},{"c":"e08","x":350,"y":-3.8},{"c":"e08","x":365,"y":-3.2},{"c":"e08","x":385,"y":-2.9},{"c":"e08","x":400,"y":-2.6},{"c":"e08","x":410,"y":-1.7},{"c":"e08","x":425,"y":-0.8},{"c":"e08","x":450,"y":-0.4},
{"c":"e09","x":300,"y":4.3},{"c":"e09","x":305,"y":5.3},{"c":"e09","x":309,"y":5},{"c":"e09","x":312,"y":2.4},{"c":"e09","x":315,"y":0},{"c":"e09","x":319,"y":-4.6},{"c":"e09","x":323,"y":-10.2},{"c":"e09","x":326,"y":-12},{"c":"e09","x":330,"y":-10.6},{"c":"e09","x":335,"y":-7},{"c":"e09","x":342,"y":-4.4},{"c":"e09","x":350,"y":-3.2},{"c":"e09","x":365,"y":-2.8},{"c":"e09","x":385,"y":-2.5},{"c":"e09","x":400,"y":-2.2},{"c":"e09","x":410,"y":-1.4},{"c":"e09","x":425,"y":-0.7},{"c":"e09","x":450,"y":-0.4},
{"c":"e10","x":300,"y":3.6},{"c":"e10","x":305,"y":4.4},{"c":"e10","x":309,"y":4.2},{"c":"e10","x":312,"y":2},{"c":"e10","x":315,"y":0},{"c":"e10","x":319,"y":-3.8},{"c":"e10","x":323,"y":-8.5},{"c":"e10","x":326,"y":-10},{"c":"e10","x":330,"y":-8.8},{"c":"e10","x":335,"y":-5.8},{"c":"e10","x":342,"y":-3.7},{"c":"e10","x":350,"y":-2.7},{"c":"e10","x":365,"y":-2.3},{"c":"e10","x":385,"y":-2.1},{"c":"e10","x":400,"y":-1.9},{"c":"e10","x":410,"y":-1.2},{"c":"e10","x":425,"y":-0.6},{"c":"e10","x":450,"y":-0.3},
{"c":"e11","x":300,"y":-2.5},{"c":"e11","x":305,"y":-1.5},{"c":"e11","x":309,"y":1},{"c":"e11","x":312,"y":0.8},{"c":"e11","x":315,"y":0},{"c":"e11","x":319,"y":-3.4},{"c":"e11","x":323,"y":-7.7},{"c":"e11","x":326,"y":-9},{"c":"e11","x":330,"y":-7.9},{"c":"e11","x":335,"y":-5.2},{"c":"e11","x":342,"y":-3.3},{"c":"e11","x":350,"y":-2.4},{"c":"e11","x":365,"y":-2.1},{"c":"e11","x":385,"y":-1.9},{"c":"e11","x":400,"y":-1.7},{"c":"e11","x":410,"y":-1.1},{"c":"e11","x":425,"y":-0.5},{"c":"e11","x":450,"y":-0.3},
{"c":"e12","x":300,"y":-3},{"c":"e12","x":305,"y":-3},{"c":"e12","x":309,"y":-1.5},{"c":"e12","x":312,"y":-0.5},{"c":"e12","x":315,"y":0},{"c":"e12","x":319,"y":-2.3},{"c":"e12","x":323,"y":-5.1},{"c":"e12","x":326,"y":-6},{"c":"e12","x":330,"y":-5.3},{"c":"e12","x":335,"y":-3.5},{"c":"e12","x":342,"y":-2.2},{"c":"e12","x":350,"y":-1.6},{"c":"e12","x":365,"y":-1.4},{"c":"e12","x":385,"y":-1.3},{"c":"e12","x":400,"y":-1.1},{"c":"e12","x":410,"y":-0.7},{"c":"e12","x":425,"y":-0.4},{"c":"e12","x":450,"y":-0.2},
{"c":"e13","x":300,"y":1.4},{"c":"e13","x":305,"y":1.8},{"c":"e13","x":309,"y":1.7},{"c":"e13","x":312,"y":0.8},{"c":"e13","x":315,"y":0},{"c":"e13","x":319,"y":-1.5},{"c":"e13","x":323,"y":-3.4},{"c":"e13","x":326,"y":-4},{"c":"e13","x":330,"y":-3.5},{"c":"e13","x":335,"y":-2.3},{"c":"e13","x":342,"y":-1.5},{"c":"e13","x":350,"y":-1.1},{"c":"e13","x":365,"y":-0.9},{"c":"e13","x":385,"y":-0.8},{"c":"e13","x":400,"y":-0.7},{"c":"e13","x":410,"y":-0.5},{"c":"e13","x":425,"y":-0.2},{"c":"e13","x":450,"y":-0.1},
{"c":"e14","x":300,"y":-1},{"c":"e14","x":305,"y":-0.5},{"c":"e14","x":309,"y":0.8},{"c":"e14","x":312,"y":0.4},{"c":"e14","x":315,"y":0},{"c":"e14","x":319,"y":-0.8},{"c":"e14","x":323,"y":-1.7},{"c":"e14","x":326,"y":-2},{"c":"e14","x":330,"y":-1.8},{"c":"e14","x":335,"y":-1.2},{"c":"e14","x":342,"y":-0.7},{"c":"e14","x":350,"y":-0.5},{"c":"e14","x":365,"y":-0.5},{"c":"e14","x":385,"y":-0.4},{"c":"e14","x":400,"y":-0.4},{"c":"e14","x":410,"y":-0.2},{"c":"e14","x":425,"y":-0.1},{"c":"e14","x":450,"y":-0.1},
{"c":"e15","x":300,"y":0.5},{"c":"e15","x":305,"y":1},{"c":"e15","x":309,"y":2.5},{"c":"e15","x":312,"y":1.5},{"c":"e15","x":315,"y":0},{"c":"e15","x":319,"y":0.5},{"c":"e15","x":323,"y":1},{"c":"e15","x":326,"y":1.2},{"c":"e15","x":330,"y":0.9},{"c":"e15","x":335,"y":0.5},{"c":"e15","x":342,"y":0.2},{"c":"e15","x":350,"y":-0.2},{"c":"e15","x":365,"y":-0.3},{"c":"e15","x":385,"y":-0.3},{"c":"e15","x":400,"y":-0.3},{"c":"e15","x":410,"y":-0.2},{"c":"e15","x":425,"y":-0.1},{"c":"e15","x":450,"y":-0.1},
{"c":"e16","x":300,"y":-0.5},{"c":"e16","x":305,"y":0},{"c":"e16","x":309,"y":2},{"c":"e16","x":312,"y":1.5},{"c":"e16","x":315,"y":0},{"c":"e16","x":319,"y":1},{"c":"e16","x":323,"y":2},{"c":"e16","x":326,"y":2.3},{"c":"e16","x":330,"y":1.8},{"c":"e16","x":335,"y":1},{"c":"e16","x":342,"y":0.4},{"c":"e16","x":350,"y":0},{"c":"e16","x":365,"y":-0.4},{"c":"e16","x":385,"y":-0.4},{"c":"e16","x":400,"y":-0.3},{"c":"e16","x":410,"y":-0.2},{"c":"e16","x":425,"y":-0.1},{"c":"e16","x":450,"y":-0.1},
{"c":"eD","x":300.3,"y":-1.2},{"c":"eD","x":303,"y":-2.5},{"c":"eD","x":307.1,"y":-3.3},{"c":"eD","x":310,"y":-3.3},{"c":"eD","x":312.4,"y":-2.5},{"c":"eD","x":315,"y":0},{"c":"eD","x":317,"y":4.9},{"c":"eD","x":320,"y":13},{"c":"eD","x":322.2,"y":19.6},{"c":"eD","x":324.5,"y":24},{"c":"eD","x":326.7,"y":26.3},{"c":"eD","x":329,"y":25.2},{"c":"eD","x":332.8,"y":22},{"c":"eD","x":337,"y":17.5},{"c":"eD","x":341.9,"y":13.1},{"c":"eD","x":346,"y":10.5},{"c":"eD","x":351,"y":9},{"c":"eD","x":357,"y":7.5},{"c":"eD","x":363,"y":6.5},{"c":"eD","x":370,"y":5.9},{"c":"eD","x":378.2,"y":5.6},{"c":"eD","x":386,"y":5.7},{"c":"eD","x":393.2,"y":5.7},{"c":"eD","x":400,"y":4.9},{"c":"eD","x":408.3,"y":3.7},{"c":"eD","x":415,"y":2.8},{"c":"eD","x":423.5,"y":2},{"c":"eD","x":435,"y":1.5},{"c":"eD","x":450,"y":1.2}],
"fA":[{"x":275.4,"y":0.2},{"x":277,"y":0.1},{"x":278,"y":0},{"x":279,"y":0.15},{"x":279.8,"y":0.45},{"x":280.7,"y":1},{"x":281.6,"y":1.49},{"x":283.5,"y":1.7},{"x":286,"y":1.78},{"x":289.6,"y":1.82},{"x":293,"y":1.73},{"x":296.7,"y":1.56},{"x":300,"y":1.35},{"x":303.8,"y":1.12},{"x":308,"y":0.96},{"x":312.6,"y":0.82},{"x":317,"y":0.7},{"x":321.5,"y":0.6},{"x":325,"y":0.61},{"x":328.6,"y":0.68},{"x":333,"y":0.82},{"x":337.5,"y":0.97},{"x":342,"y":1.12},{"x":346.4,"y":1.26},{"x":351,"y":1.35},{"x":355.2,"y":1.39},{"x":362.3,"y":1.38},{"x":366,"y":1.32},{"x":369.5,"y":1.23},{"x":374,"y":1.1},{"x":378.3,"y":0.98},{"x":382,"y":0.95},{"x":385.4,"y":0.93},{"x":388,"y":0.9},{"x":390.8,"y":0.86},{"x":393.5,"y":0.74},{"x":396.1,"y":0.6},{"x":399.5,"y":0.45},{"x":403.2,"y":0.31},{"x":408,"y":0.21},{"x":413.8,"y":0.16},{"x":425,"y":0.11},{"x":435.1,"y":0.09},{"x":450,"y":0.08}],
"fL":[{"x":275.4,"y":-0.0048},{"x":277.3,"y":-0.006},{"x":279,"y":-0.0068},{"x":280.7,"y":-0.0075},{"x":282,"y":-0.007},{"x":283.4,"y":-0.0058},{"x":285.5,"y":-0.003},{"x":287.8,"y":0},{"x":290.5,"y":0.0018},{"x":293.1,"y":0.0031},{"x":297,"y":0.004},{"x":302,"y":0.0046},{"x":305,"y":0.0053},{"x":307.3,"y":0.0056},{"x":310.5,"y":0.0053},{"x":314.4,"y":0.0046},{"x":318,"y":0.0036},{"x":322,"y":0.0034},{"x":328.6,"y":0.0035},{"x":337,"y":0.0042},{"x":346.4,"y":0.0048},{"x":360,"y":0.006},{"x":374.8,"y":0.007},{"x":385,"y":0.0071},{"x":392.5,"y":0.0072},{"x":397.8,"y":0.0073},{"x":403,"y":0.0068},{"x":410.2,"y":0.0053},{"x":418,"y":0.0044},{"x":426.2,"y":0.0036},{"x":438,"y":0.0027},{"x":450,"y":0.0017}],
"fC":[
{"c":"f0","x":275.4,"y":0},{"c":"f0","x":450,"y":0},
{"c":"fD","x":275.4,"y":-3},{"c":"fD","x":279,"y":63},{"c":"fD","x":283,"y":150},{"c":"fD","x":287.8,"y":226},{"c":"fD","x":292,"y":262},{"c":"fD","x":296.7,"y":272},{"c":"fD","x":301,"y":260},{"c":"fD","x":307.3,"y":226},{"c":"fD","x":312,"y":178},{"c":"fD","x":318,"y":124},{"c":"fD","x":321.5,"y":100},{"c":"fD","x":325,"y":89},{"c":"fD","x":330,"y":95},{"c":"fD","x":335.7,"y":114},{"c":"fD","x":341,"y":150},{"c":"fD","x":346.4,"y":196},{"c":"fD","x":351,"y":230},{"c":"fD","x":357,"y":257},{"c":"fD","x":364.1,"y":267},{"c":"fD","x":368,"y":260},{"c":"fD","x":373,"y":236},{"c":"fD","x":377.5,"y":210},{"c":"fD","x":381.9,"y":190},{"c":"fD","x":386,"y":182},{"c":"fD","x":389,"y":175},{"c":"fD","x":392,"y":150},{"c":"fD","x":396.1,"y":83},{"c":"fD","x":399.5,"y":38},{"c":"fD","x":403.2,"y":2},{"c":"fD","x":408,"y":-8},{"c":"fD","x":413.8,"y":-13},{"c":"fD","x":425,"y":-16},{"c":"fD","x":435.1,"y":-18},{"c":"fD","x":450,"y":-20},
{"c":"fL","x":275.4,"y":12},{"c":"fL","x":280.7,"y":-80},{"c":"fL","x":284,"y":-150},{"c":"fL","x":287.8,"y":-202},{"c":"fL","x":292,"y":-250},{"c":"fL","x":296.7,"y":-268},{"c":"fL","x":301,"y":-258},{"c":"fL","x":305.6,"y":-222},{"c":"fL","x":310,"y":-170},{"c":"fL","x":314.4,"y":-120},{"c":"fL","x":318.5,"y":-97},{"c":"fL","x":323.3,"y":-90},{"c":"fL","x":328,"y":-95},{"c":"fL","x":333.9,"y":-110},{"c":"fL","x":340,"y":-145},{"c":"fL","x":346.4,"y":-192},{"c":"fL","x":351,"y":-222},{"c":"fL","x":357,"y":-243},{"c":"fL","x":364.1,"y":-253},{"c":"fL","x":368,"y":-245},{"c":"fL","x":373,"y":-212},{"c":"fL","x":377.5,"y":-195},{"c":"fL","x":381.9,"y":-182},{"c":"fL","x":386,"y":-174},{"c":"fL","x":389,"y":-166},{"c":"fL","x":392.5,"y":-130},{"c":"fL","x":396.1,"y":-80},{"c":"fL","x":399.5,"y":-35},{"c":"fL","x":403.2,"y":-3},{"c":"fL","x":408,"y":18},{"c":"fL","x":413.8,"y":32},{"c":"fL","x":425,"y":36},{"c":"fL","x":435.1,"y":38},{"c":"fL","x":450,"y":32}]
},
"columns":5,
"spacing":0,
"bounds":"flush",
"resolve":{"scale":{"color":"independent"}},
"concat":[
 {"width":331,"height":96,"data":{"name":"aA"},
  "encoding":{"x":{"field":"x","type":"quantitative","scale":{"domain":[293.4,400],"nice":false,"zero":false},"axis":{"values":[300,312.5,325,337.5,350,362.5,375,387.5,400],"labels":false,"title":null}},
              "y":{"field":"y","type":"quantitative","scale":{"domain":[-0.11,1.508],"nice":false,"zero":false},"axis":{"values":[0,0.5,1,1.5],"labelExpr":"datum.value==0?'0':datum.value==1.5?'1.5':''","title":"Abs","titleX":-64.5,"titleY":70.5}}},
  "layer":[
    {"data":{"name":"frame"},"mark":{"type":"rect","fillOpacity":0,"stroke":"#0b14f2","strokeWidth":7},"encoding":{"x2":{"field":"x2"},"y2":{"field":"y2"}}},
    {"mark":{"type":"line","color":"#333333","strokeWidth":1.1,"clip":true,"interpolate":"monotone"}},
    {"data":{"name":"lab"},"transform":[{"filter":"datum.g=='aA'"}],"mark":{"type":"text","fontWeight":"bold","fontSize":13},"encoding":{"text":{"field":"t"}}},
    {"data":{"name":"let"},"transform":[{"filter":"datum.g=='a'"}],"mark":{"type":"text","fontWeight":"bold","fontSize":19},"encoding":{"text":{"field":"t"}}}]},
 {"width":113,"height":1,"data":{"values":[]},"mark":"point","view":{"stroke":null}},
 {"width":317,"height":96,"data":{"name":"bA"},
  "encoding":{"x":{"field":"x","type":"quantitative","scale":{"domain":[282.2,450],"nice":false,"zero":false},"axis":{"values":[300,325,350,375,400,425,450],"labels":false,"title":null}},
              "y":{"field":"y","type":"quantitative","scale":{"domain":[-0.052,1.5],"nice":false,"zero":false},"axis":{"values":[0,0.25,0.5,0.75,1,1.25,1.5],"labelExpr":"datum.value==0?'0':datum.value==0.5?'0.5':datum.value==1?'1.0':datum.value==1.5?'1.5':''","title":"Abs","titleX":-51.6,"titleY":46.5}}},
  "layer":[
    {"mark":{"type":"line","color":"#333333","strokeWidth":1.1,"clip":true,"interpolate":"monotone"}},
    {"data":{"name":"lab"},"transform":[{"filter":"datum.g=='bA'"}],"mark":{"type":"text","fontWeight":"bold","fontSize":13},"encoding":{"text":{"field":"t"}}},
    {"data":{"name":"let"},"transform":[{"filter":"datum.g=='b'"}],"mark":{"type":"text","fontWeight":"bold","fontSize":19},"encoding":{"text":{"field":"t"}}}]},
 {"width":119,"height":1,"data":{"values":[]},"mark":"point","view":{"stroke":null}},
 {"width":318,"height":96,"data":{"name":"cA"},
  "encoding":{"x":{"field":"x","type":"quantitative","scale":{"domain":[285.9,400],"nice":false,"zero":false},"axis":{"values":[287.5,300,312.5,325,337.5,350,362.5,375,387.5,400],"labels":false,"title":null}},
              "y":{"field":"y","type":"quantitative","scale":{"domain":[-0.253,3.123],"nice":false,"zero":false},"axis":{"values":[0,0.5,1,1.5,2,2.5,3],"labelExpr":"datum.value%1==0?''+datum.value:''","title":"Abs","titleX":-62.2,"titleY":52.5}}},
  "layer":[
    {"mark":{"type":"line","color":"#333333","strokeWidth":1.1,"clip":true,"interpolate":"monotone"}},
    {"data":{"name":"lab"},"transform":[{"filter":"datum.g=='cA'"}],"mark":{"type":"text","fontWeight":"bold","fontSize":13},"encoding":{"text":{"field":"t"}}},
    {"data":{"name":"let"},"transform":[{"filter":"datum.g=='c'"}],"mark":{"type":"text","fontWeight":"bold","fontSize":19},"encoding":{"text":{"field":"t"}}}]},

 {"width":331,"height":157,"data":{"name":"aL"},
  "encoding":{"x":{"field":"x","type":"quantitative","scale":{"domain":[293.4,400],"nice":false,"zero":false},"axis":{"values":[300,312.5,325,337.5,350,362.5,375,387.5,400],"labels":false,"title":null}},
              "y":{"field":"y","type":"quantitative","scale":{"domain":[-0.001023,0.001369],"nice":false,"zero":false},"axis":{"values":[-0.001,-0.0005,0,0.0005,0.001],"labelExpr":"datum.value==0?'0.000':datum.value==0.001?'0.001':datum.value==-0.001?'-0.001':''","title":"LD (ΔOD)","titleX":-60.5,"titleY":89.5}}},
  "layer":[
    {"mark":{"type":"line","color":"#333333","strokeWidth":1.1,"clip":true,"interpolate":"monotone"}},
    {"data":{"name":"lab"},"transform":[{"filter":"datum.g=='aL'"}],"mark":{"type":"text","fontWeight":"bold","fontSize":13},"encoding":{"text":{"field":"t"}}}]},
 {"width":113,"height":1,"data":{"values":[]},"mark":"point","view":{"stroke":null}},
 {"width":317,"height":157,"data":{"name":"bL"},
  "encoding":{"x":{"field":"x","type":"quantitative","scale":{"domain":[282.2,450],"nice":false,"zero":false},"axis":{"values":[300,325,350,375,400,425,450],"labels":false,"title":null}},
              "y":{"field":"y","type":"quantitative","scale":{"domain":[-0.011,0.02389],"nice":false,"zero":false},"axis":{"values":[-0.01,-0.005,0,0.005,0.01,0.015,0.02],"labelExpr":"datum.value==-0.01?'-0.01':datum.value==0?'0.00':datum.value==0.01?'0.01':datum.value==0.02?'0.02':''","title":"LD (ΔOD)","titleX":-49.6,"titleY":79.5}}},
  "layer":[
    {"mark":{"type":"line","color":"#333333","strokeWidth":1.1,"clip":true,"interpolate":"monotone"}},
    {"data":{"name":"lab"},"transform":[{"filter":"datum.g=='bL'"}],"mark":{"type":"text","fontWeight":"bold","fontSize":13},"encoding":{"text":{"field":"t"}}}]},
 {"width":119,"height":1,"data":{"values":[]},"mark":"point","view":{"stroke":null}},
 {"width":318,"height":157,"data":{"name":"cL"},
  "encoding":{"x":{"field":"x","type":"quantitative","scale":{"domain":[285.9,400],"nice":false,"zero":false},"axis":{"values":[287.5,300,312.5,325,337.5,350,362.5,375,387.5,400],"labels":false,"title":null}},
              "y":{"field":"y","type":"quantitative","scale":{"domain":[-0.001057,0.001287],"nice":false,"zero":false},"axis":{"values":[-0.001,-0.0005,0,0.0005,0.001],"labelExpr":"datum.value==0?'0.00':datum.value==0.001?'0.001':datum.value==-0.001?'-0.001':''","title":"LD (ΔOD)","titleX":-64.2,"titleY":85.5}}},
  "layer":[
    {"mark":{"type":"line","color":"#333333","strokeWidth":1.1,"clip":true,"interpolate":"monotone"}},
    {"data":{"name":"lab"},"transform":[{"filter":"datum.g=='cL'"}],"mark":{"type":"text","fontWeight":"bold","fontSize":13},"encoding":{"text":{"field":"t"}}}]},

 {"width":331,"height":246,"data":{"name":"aC"},
  "encoding":{"x":{"field":"x","type":"quantitative","scale":{"domain":[293.4,400],"nice":false,"zero":false},"axis":{"values":[300,312.5,325,337.5,350,362.5,375,387.5,400],"labelExpr":"datum.value%25==0?''+datum.value:''","title":"Wavelength (nm)","labelPadding":6.5,"titlePadding":5}},
              "y":{"field":"y","type":"quantitative","scale":{"domain":[-60.6,58.8],"nice":false,"zero":false},"axis":{"values":[-60,-50,-40,-30,-20,-10,0,10,20,30,40,50],"labelExpr":"datum.value%20==0?(datum.value<0?'-':'')+abs(datum.value):''","title":"Δε (M⁻¹ cm⁻¹)","titleFontSize":14,"titleX":-62.5,"titleY":121.5}}},
  "layer":[
    {"mark":{"type":"line","strokeWidth":1.1,"clip":true,"interpolate":"monotone"},"encoding":{"color":{"field":"c","type":"nominal","legend":null,"scale":{"domain":["a01","a02","a03","a04","a05","a06","a07","a08","a09","a10","a11","a12","a13","a14","a15","a16","a17","aL"],"range":["#8b2f3c","#a04a70","#8c55b0","#2c3c8c","#6a7a35","#e0d860","#d878c8","#50c8d8","#4a62c8","#9a60b8","#88c848","#2ea060","#3c7cd0","#f0a040","#e05050","#2a6a4a","#303030","#f08080"]}}}},
    {"data":{"name":"lab"},"transform":[{"filter":"datum.g=='aC'"}],"mark":{"type":"text","fontWeight":"bold","fontSize":13},"encoding":{"text":{"field":"t"}}},
    {"data":{"name":"sub"},"transform":[{"filter":"datum.g=='aC'"}],"mark":{"type":"text","fontSize":12},"encoding":{"text":{"field":"t"}}},
    {"data":{"name":"big"},"transform":[{"filter":"datum.g=='aC'"}],"mark":{"type":"text","fontSize":16},"encoding":{"text":{"field":"t"}}},
    {"data":{"name":"arr"},"transform":[{"filter":"datum.g=='aC'"}],"mark":{"type":"rule","color":"#111111","strokeWidth":1.6},"encoding":{"y2":{"field":"y2"}}},
    {"data":{"name":"tipU"},"transform":[{"filter":"datum.g=='aC'"}],"mark":{"type":"point","shape":"triangle-up","filled":true,"color":"#111111","size":45,"opacity":1}}]},
 {"width":113,"height":1,"data":{"values":[]},"mark":"point","view":{"stroke":null}},
 {"width":317,"height":246,"data":{"name":"bC"},
  "encoding":{"x":{"field":"x","type":"quantitative","scale":{"domain":[282.2,450],"nice":false,"zero":false},"axis":{"values":[300,325,350,375,400,425,450],"labelExpr":"datum.value%50==0?''+datum.value:''","title":"Wavelength (nm)","labelPadding":4.5,"titlePadding":4}},
              "y":{"field":"y","type":"quantitative","scale":{"domain":[-63.2,68.3],"nice":false,"zero":false},"axis":{"values":[-60,-50,-40,-30,-20,-10,0,10,20,30,40,50,60],"labelExpr":"datum.value%20==0?(datum.value<0?'-':'')+abs(datum.value):''","title":"Δε (M⁻¹ cm⁻¹)","titleFontSize":14,"titleX":-42.6,"titleY":116.5}}},
  "layer":[
    {"mark":{"type":"line","strokeWidth":1.1,"clip":true,"interpolate":"monotone"},"encoding":{"color":{"field":"c","type":"nominal","legend":null,"scale":{"domain":["b01","b02","b03","b04","b05","b06","b07","b08","b09","b10","b11","b12","b13","b14"],"range":["#8b2f5a","#c04898","#6a3ca0","#4a68c8","#3c8c50","#e0d850","#3c7c5c","#d878c8","#40c0c8","#3c3c9c","#2ea080","#f0a040","#e04040","#303030"]}}}},
    {"data":{"name":"lab"},"transform":[{"filter":"datum.g=='bC'"}],"mark":{"type":"text","fontWeight":"bold","fontSize":13},"encoding":{"text":{"field":"t"}}},
    {"data":{"name":"sub"},"transform":[{"filter":"datum.g=='bC'"}],"mark":{"type":"text","fontSize":12},"encoding":{"text":{"field":"t"}}},
    {"data":{"name":"big"},"transform":[{"filter":"datum.g=='bC'"}],"mark":{"type":"text","fontSize":16},"encoding":{"text":{"field":"t"}}},
    {"data":{"name":"arr"},"transform":[{"filter":"datum.g=='bC'"}],"mark":{"type":"rule","color":"#111111","strokeWidth":1.6},"encoding":{"y2":{"field":"y2"}}},
    {"data":{"name":"tipU"},"transform":[{"filter":"datum.g=='bC'"}],"mark":{"type":"point","shape":"triangle-up","filled":true,"color":"#111111","size":45,"opacity":1}}]},
 {"width":119,"height":1,"data":{"values":[]},"mark":"point","view":{"stroke":null}},
 {"width":318,"height":246,"data":{"name":"cC"},
  "encoding":{"x":{"field":"x","type":"quantitative","scale":{"domain":[285.9,400],"nice":false,"zero":false},"axis":{"values":[287.5,300,312.5,325,337.5,350,362.5,375,387.5,400],"labelExpr":"datum.value%25==0?''+datum.value:''","title":"Wavelength (nm)","labelPadding":9.5,"titlePadding":5}},
              "y":{"field":"y","type":"quantitative","scale":{"domain":[-50,56.7],"nice":false,"zero":false},"axis":{"values":[-50,-37.5,-25,-12.5,0,12.5,25,37.5,50],"labelExpr":"datum.value%25==0?(datum.value<0?'-':'')+abs(datum.value):''","title":"Δε (M⁻¹ cm⁻¹)","titleFontSize":14,"titleX":-60.2,"titleY":132.5}}},
  "layer":[
    {"mark":{"type":"line","strokeWidth":1.1,"clip":true,"interpolate":"monotone"},"encoding":{"color":{"field":"c","type":"nominal","legend":null,"scale":{"domain":["c01","c02","c03","c04","c05","c06","c07","c08","c09","c10","c11","c12","c13","c14","c15","c16","c17"],"range":["#3c4c8c","#2e9a70","#50c8d8","#a0d070","#a03c40","#d878c8","#4a50b0","#6a8040","#e0d860","#e8a0e0","#5a60c0","#8a50a8","#e05050","#f0a040","#2e9a50","#303030","#e8a0d8"]}}}},
    {"data":{"name":"lab"},"transform":[{"filter":"datum.g=='cC'"}],"mark":{"type":"text","fontWeight":"bold","fontSize":13},"encoding":{"text":{"field":"t"}}},
    {"data":{"name":"sub"},"transform":[{"filter":"datum.g=='cC'"}],"mark":{"type":"text","fontSize":12},"encoding":{"text":{"field":"t"}}},
    {"data":{"name":"big"},"transform":[{"filter":"datum.g=='cC'"}],"mark":{"type":"text","fontSize":16},"encoding":{"text":{"field":"t"}}},
    {"data":{"name":"arr"},"transform":[{"filter":"datum.g=='cC'"}],"mark":{"type":"rule","color":"#111111","strokeWidth":1.6},"encoding":{"y2":{"field":"y2"}}},
    {"data":{"name":"tipU"},"transform":[{"filter":"datum.g=='cC'"}],"mark":{"type":"point","shape":"triangle-up","filled":true,"color":"#111111","size":45,"opacity":1}}]},

 {"width":1,"height":106,"data":{"values":[]},"mark":"point","view":{"stroke":null}},
 {"width":1,"height":106,"data":{"values":[]},"mark":"point","view":{"stroke":null}},
 {"width":1,"height":106,"data":{"values":[]},"mark":"point","view":{"stroke":null}},
 {"width":1,"height":106,"data":{"values":[]},"mark":"point","view":{"stroke":null}},
 {"width":1,"height":106,"data":{"values":[]},"mark":"point","view":{"stroke":null}},

 {"width":325,"height":98,"data":{"name":"dA"},
  "encoding":{"x":{"field":"x","type":"quantitative","scale":{"domain":[275.2,450],"nice":false,"zero":false},"axis":{"values":[300,325,350,375,400,425,450],"labels":false,"title":null}},
              "y":{"field":"y","type":"quantitative","scale":{"domain":[-0.101,2.101],"nice":false,"zero":false},"axis":{"values":[0,0.5,1,1.5,2],"labelExpr":"datum.value%1==0?''+datum.value:''","title":"Abs","titleX":-73.5,"titleY":56.5}}},
  "layer":[
    {"mark":{"type":"line","color":"#333333","strokeWidth":1.1,"clip":true,"interpolate":"monotone"}},
    {"data":{"name":"lab"},"transform":[{"filter":"datum.g=='dA'"}],"mark":{"type":"text","fontWeight":"bold","fontSize":13},"encoding":{"text":{"field":"t"}}},
    {"data":{"name":"let"},"transform":[{"filter":"datum.g=='d'"}],"mark":{"type":"text","fontWeight":"bold","fontSize":19},"encoding":{"text":{"field":"t"}}}]},
 {"width":1,"height":1,"data":{"values":[]},"mark":"point","view":{"stroke":null}},
 {"width":326,"height":98,"data":{"name":"eA"},
  "encoding":{"x":{"field":"x","type":"quantitative","scale":{"domain":[300,450],"nice":false,"zero":false},"axis":{"values":[300,325,350,375,400,425,450],"labels":false,"title":null}},
              "y":{"field":"y","type":"quantitative","scale":{"domain":[-0.203,3.007],"nice":false,"zero":false},"axis":{"values":[0,0.5,1,1.5,2,2.5,3],"labelExpr":"datum.value%1==0?''+datum.value:''","title":"Abs","titleX":-78.6,"titleY":51.5}}},
  "layer":[
    {"mark":{"type":"line","color":"#333333","strokeWidth":1.1,"clip":true,"interpolate":"monotone"}},
    {"data":{"name":"lab"},"transform":[{"filter":"datum.g=='eA'"}],"mark":{"type":"text","fontWeight":"bold","fontSize":13},"encoding":{"text":{"field":"t"}}},
    {"data":{"name":"let"},"transform":[{"filter":"datum.g=='e'"}],"mark":{"type":"text","fontWeight":"bold","fontSize":19},"encoding":{"text":{"field":"t"}}}]},
 {"width":1,"height":1,"data":{"values":[]},"mark":"point","view":{"stroke":null}},
 {"width":324,"height":98,"data":{"name":"fA"},
  "encoding":{"x":{"field":"x","type":"quantitative","scale":{"domain":[277.4,450],"nice":false,"zero":false},"axis":{"values":[300,325,350,375,400,425,450],"labels":false,"title":null}},
              "y":{"field":"y","type":"quantitative","scale":{"domain":[-0.159,2.004],"nice":false,"zero":false},"axis":{"values":[0,0.5,1,1.5,2],"labelExpr":"datum.value%1==0?''+datum.value:''","title":"Abs","titleX":-72.2,"titleY":51.5}}},
  "layer":[
    {"mark":{"type":"line","color":"#333333","strokeWidth":1.1,"clip":true,"interpolate":"monotone"}},
    {"data":{"name":"lab"},"transform":[{"filter":"datum.g=='fA'"}],"mark":{"type":"text","fontWeight":"bold","fontSize":13},"encoding":{"text":{"field":"t"}}},
    {"data":{"name":"let"},"transform":[{"filter":"datum.g=='f'"}],"mark":{"type":"text","fontWeight":"bold","fontSize":19},"encoding":{"text":{"field":"t"}}}]},

 {"width":325,"height":164,"data":{"name":"dL"},
  "encoding":{"x":{"field":"x","type":"quantitative","scale":{"domain":[275.2,450],"nice":false,"zero":false},"axis":{"values":[300,325,350,375,400,425,450],"labels":false,"title":null}},
              "y":{"field":"y","type":"quantitative","scale":{"domain":[-0.003,0.004093],"nice":false,"zero":false},"axis":{"values":[-0.003,-0.0015,0,0.0015,0.003],"labelExpr":"datum.value==0?'0.000':datum.value==0.003?'0.003':datum.value==-0.003?'-0.003':''","title":"LD (ΔOD)","titleX":-73.5,"titleY":101}}},
  "layer":[
    {"mark":{"type":"line","color":"#333333","strokeWidth":1.1,"clip":true,"interpolate":"monotone"}},
    {"data":{"name":"lab"},"transform":[{"filter":"datum.g=='dL'"}],"mark":{"type":"text","fontWeight":"bold","fontSize":13},"encoding":{"text":{"field":"t"}}}]},
 {"width":1,"height":1,"data":{"values":[]},"mark":"point","view":{"stroke":null}},
 {"width":326,"height":164,"data":{"name":"eL"},
  "encoding":{"x":{"field":"x","type":"quantitative","scale":{"domain":[300,450],"nice":false,"zero":false},"axis":{"values":[300,325,350,375,400,425,450],"labels":false,"title":null}},
              "y":{"field":"y","type":"quantitative","scale":{"domain":[-0.001012,0.001358],"nice":false,"zero":false},"axis":{"values":[-0.001,-0.0005,0,0.0005,0.001],"labelExpr":"datum.value==0?'0.000':datum.value==0.001?'0.001':datum.value==-0.001?'-0.001':''","title":"LD (ΔOD)","titleX":-75.6,"titleY":91}}},
  "layer":[
    {"mark":{"type":"line","color":"#333333","strokeWidth":1.1,"clip":true,"interpolate":"monotone"}},
    {"data":{"name":"lab"},"transform":[{"filter":"datum.g=='eL'"}],"mark":{"type":"text","fontWeight":"bold","fontSize":13},"encoding":{"text":{"field":"t"}}}]},
 {"width":1,"height":1,"data":{"values":[]},"mark":"point","view":{"stroke":null}},
 {"width":324,"height":164,"data":{"name":"fL"},
  "encoding":{"x":{"field":"x","type":"quantitative","scale":{"domain":[277.4,450],"nice":false,"zero":false},"axis":{"values":[300,325,350,375,400,425,450],"labels":false,"title":null}},
              "y":{"field":"y","type":"quantitative","scale":{"domain":[-0.0104,0.01336],"nice":false,"zero":false},"axis":{"values":[-0.01,-0.005,0,0.005,0.01],"labelExpr":"datum.value==0?'0.00':datum.value==0.01?'0.01':datum.value==-0.01?'-0.01':''","title":"LD (ΔOD)","titleX":-73.2,"titleY":89}}},
  "layer":[
    {"mark":{"type":"line","color":"#333333","strokeWidth":1.1,"clip":true,"interpolate":"monotone"}},
    {"data":{"name":"lab"},"transform":[{"filter":"datum.g=='fL'"}],"mark":{"type":"text","fontWeight":"bold","fontSize":13},"encoding":{"text":{"field":"t"}}}]},

 {"width":325,"height":265,"data":{"name":"dC"},
  "encoding":{"x":{"field":"x","type":"quantitative","scale":{"domain":[275.2,450],"nice":false,"zero":false},"axis":{"values":[300,325,350,375,400,425,450],"labelExpr":"datum.value%50==0?''+datum.value:''","title":"Wavelength (nm)","labelPadding":15,"titlePadding":1.5}},
              "y":{"field":"y","type":"quantitative","scale":{"domain":[-25,30.2],"nice":false,"zero":false},"axis":{"values":[-25,-18.75,-12.5,-6.25,0,6.25,12.5,18.75,25],"labelExpr":"datum.value==0?'0':datum.value%12.5==0?(datum.value<0?'-':'')+format(abs(datum.value),'.1f'):''","title":"Δε (M⁻¹ cm⁻¹)","titleFontSize":14,"titleX":-73.5,"titleY":149.5}}},
  "layer":[
    {"mark":{"type":"line","strokeWidth":1.1,"clip":true,"interpolate":"monotone"},"encoding":{"color":{"field":"c","type":"nominal","legend":null,"scale":{"domain":["d0","dD","dL"],"range":["#303030","#5a6ad0","#f06060"]}}}},
    {"data":{"name":"lab"},"transform":[{"filter":"datum.g=='dC'"}],"mark":{"type":"text","fontWeight":"bold","fontSize":13},"encoding":{"text":{"field":"t"}}}]},
 {"width":1,"height":1,"data":{"values":[]},"mark":"point","view":{"stroke":null}},
 {"width":326,"height":265,"data":{"name":"eC"},
  "encoding":{"x":{"field":"x","type":"quantitative","scale":{"domain":[300,450],"nice":false,"zero":false},"axis":{"values":[300,325,350,375,400,425,450],"labelExpr":"datum.value%50==0?''+datum.value:''","title":"Wavelength (nm)","labelPadding":12.7,"titlePadding":6.8}},
              "y":{"field":"y","type":"quantitative","scale":{"domain":[-30.25,34.6],"nice":false,"zero":false},"axis":{"values":[-30,-22.5,-15,-7.5,0,7.5,15,22.5,30],"labelExpr":"datum.value%15==0?(datum.value<0?'-':'')+abs(datum.value):''","title":"Δε (M⁻¹ cm⁻¹)","titleFontSize":14,"titleX":-73.6,"titleY":146.5}}},
  "layer":[
    {"mark":{"type":"line","strokeWidth":1.1,"clip":true,"interpolate":"monotone"},"encoding":{"color":{"field":"c","type":"nominal","legend":null,"scale":{"domain":["e01","e02","e03","e04","e05","e06","e07","e08","e09","e10","e11","e12","e13","e14","e15","e16","eD"],"range":["#e0b070","#6a9040","#8a5a8a","#e0d860","#d878c8","#40c0c8","#4a62c8","#2ea080","#8c55b0","#f0a040","#303040","#3c4c9c","#d8a0e0","#e05050","#3c8c50","#5a3030","#5a6ab8"]}}}},
    {"data":{"name":"lab"},"transform":[{"filter":"datum.g=='eC'"}],"mark":{"type":"text","fontWeight":"bold","fontSize":13},"encoding":{"text":{"field":"t"}}},
    {"data":{"name":"sub"},"transform":[{"filter":"datum.g=='eC'"}],"mark":{"type":"text","fontSize":12},"encoding":{"text":{"field":"t"}}},
    {"data":{"name":"big"},"transform":[{"filter":"datum.g=='eC'"}],"mark":{"type":"text","fontSize":16},"encoding":{"text":{"field":"t"}}},
    {"data":{"name":"arr"},"transform":[{"filter":"datum.g=='eC'"}],"mark":{"type":"rule","color":"#111111","strokeWidth":1.6},"encoding":{"y2":{"field":"y2"}}},
    {"data":{"name":"tipD"},"transform":[{"filter":"datum.g=='eC'"}],"mark":{"type":"point","shape":"triangle-down","filled":true,"color":"#111111","size":45,"opacity":1}}]},
 {"width":1,"height":1,"data":{"values":[]},"mark":"point","view":{"stroke":null}},
 {"width":324,"height":265,"data":{"name":"fC"},
  "encoding":{"x":{"field":"x","type":"quantitative","scale":{"domain":[277.4,450],"nice":false,"zero":false},"axis":{"values":[300,325,350,375,400,425,450],"labelExpr":"datum.value%50==0?''+datum.value:''","title":"Wavelength (nm)","labelPadding":8.5,"titlePadding":3}},
              "y":{"field":"y","type":"quantitative","scale":{"domain":[-386.3,424.9],"nice":false,"zero":false},"axis":{"values":[-375,-300,-225,-150,-75,0,75,150,225,300],"labelExpr":"datum.value==-375?'-300':datum.value==-300?'':datum.value%150==0?(datum.value<0?'-':'')+abs(datum.value):''","title":"Δε (M⁻¹ cm⁻¹)","titleFontSize":14,"titleX":-70.2,"titleY":141.5}}},
  "layer":[
    {"mark":{"type":"line","strokeWidth":1.1,"clip":true,"interpolate":"monotone"},"encoding":{"color":{"field":"c","type":"nominal","legend":null,"scale":{"domain":["f0","fD","fL"],"range":["#6a7ad8","#5a6ad0","#f06060"]}}}},
    {"data":{"name":"lab"},"transform":[{"filter":"datum.g=='fC'"}],"mark":{"type":"text","fontWeight":"bold","fontSize":13},"encoding":{"text":{"field":"t"}}}]}
]
}
